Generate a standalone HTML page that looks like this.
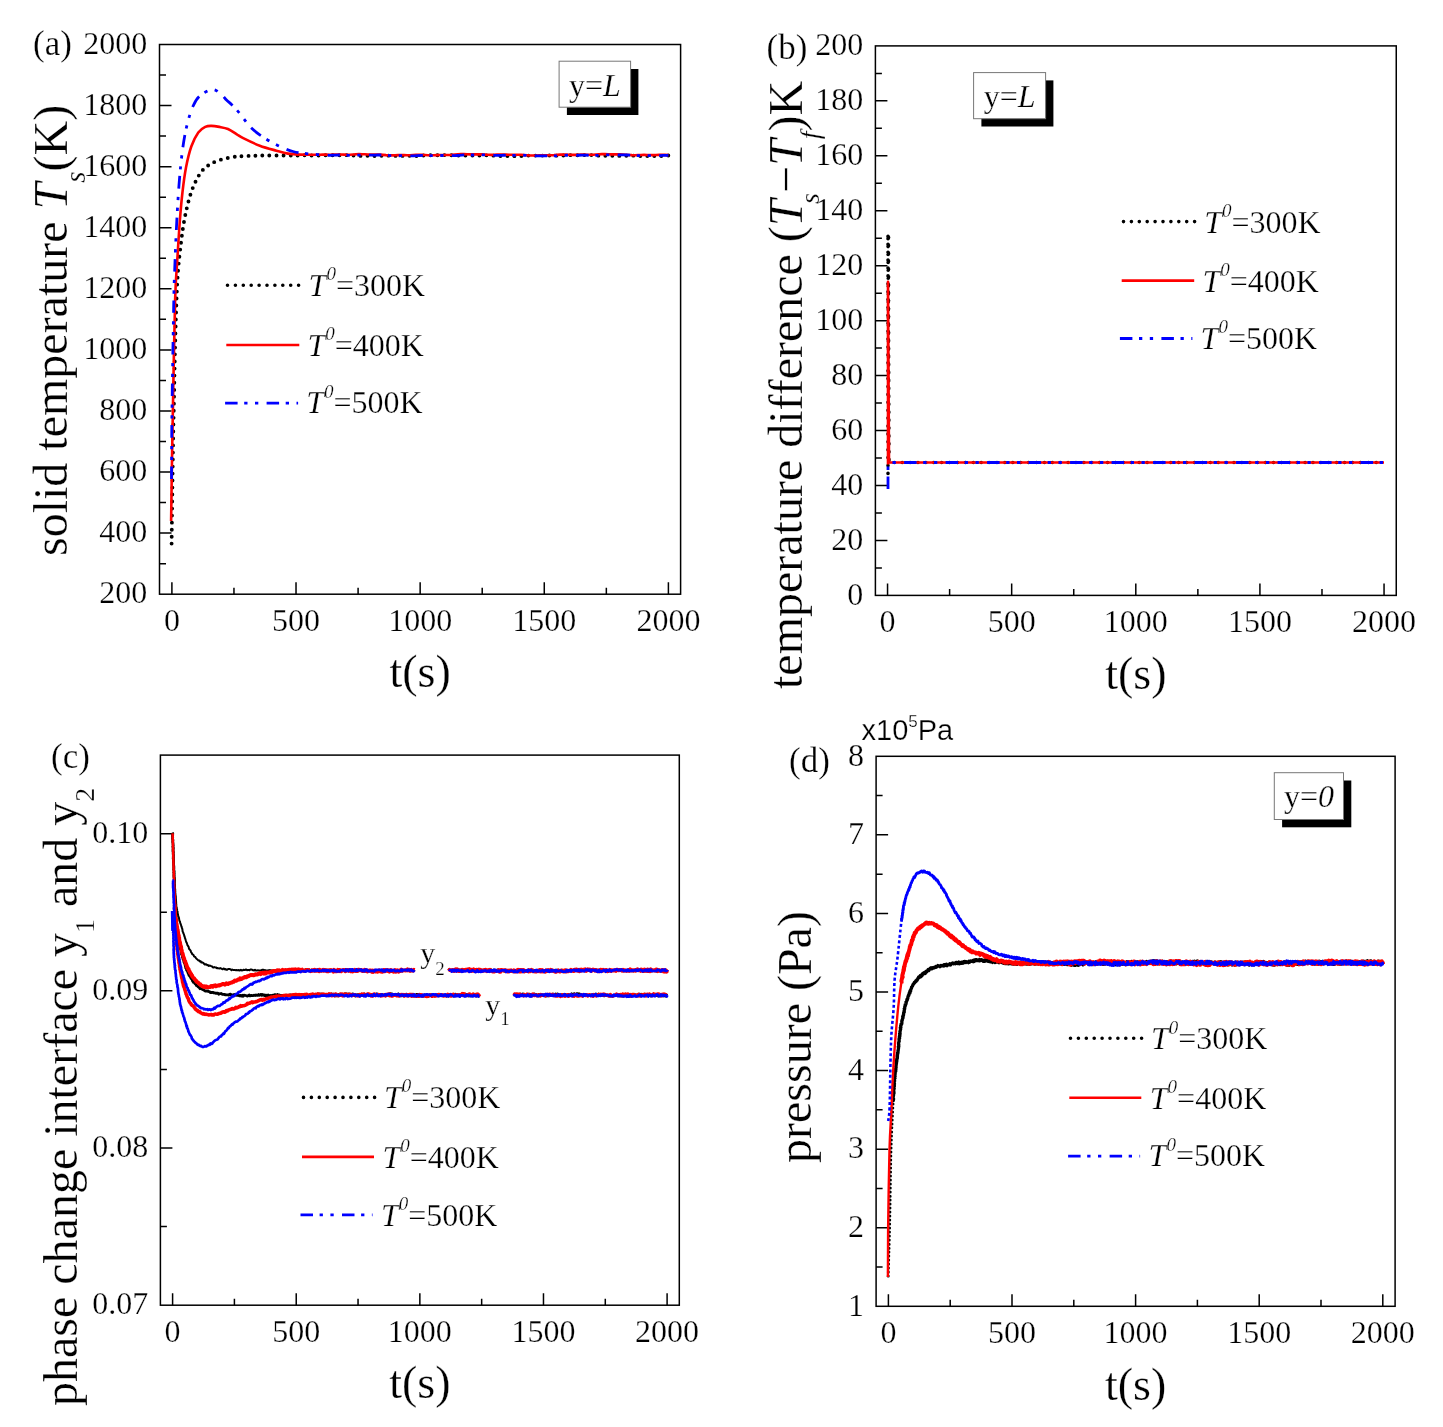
<!DOCTYPE html>
<html><head><meta charset="utf-8"><title>chart</title>
<style>html,body{margin:0;padding:0;background:#fff;}svg{display:block;}text{stroke:#fff;stroke-width:0.25px;}</style></head>
<body><svg style="will-change:transform" width="1443" height="1427" viewBox="0 0 1443 1427">
<defs><clipPath id="clipa"><rect x="159.5" y="44.5" width="521.1" height="549.7"/></clipPath><clipPath id="clipb"><rect x="875.4" y="45.9" width="520.85" height="549.5"/></clipPath><clipPath id="clipc"><rect x="160.4" y="755.1" width="518.9" height="550.1"/></clipPath><clipPath id="clipd"><rect x="876.1" y="756.3" width="518.9999999999999" height="550.0"/></clipPath></defs>
<rect width="1443" height="1427" fill="#fff"/>
<rect x="159.50" y="44.50" width="521.10" height="549.70" fill="none" stroke="#000" stroke-width="1.5"/>
<path d="M159.50 563.66h6.5 M159.50 533.12h12 M159.50 502.58h6.5 M159.50 472.04h12 M159.50 441.51h6.5 M159.50 410.97h12 M159.50 380.43h6.5 M159.50 349.89h12 M159.50 319.35h6.5 M159.50 288.81h12 M159.50 258.27h6.5 M159.50 227.73h12 M159.50 197.19h6.5 M159.50 166.66h12 M159.50 136.12h6.5 M159.50 105.58h12 M159.50 75.04h6.5 M171.90 594.20v-12 M233.96 594.20v-6.5 M296.02 594.20v-12 M358.09 594.20v-6.5 M420.15 594.20v-12 M482.21 594.20v-6.5 M544.27 594.20v-12 M606.34 594.20v-6.5 M668.40 594.20v-12" stroke="#000" stroke-width="1.5" fill="none"/>
<g font-family='"Liberation Serif", serif' font-size="32" fill="#000"><text x="147.30" y="603.40" text-anchor="end">200</text><text x="147.30" y="542.32" text-anchor="end">400</text><text x="147.30" y="481.24" text-anchor="end">600</text><text x="147.30" y="420.17" text-anchor="end">800</text><text x="147.30" y="359.09" text-anchor="end">1000</text><text x="147.30" y="298.01" text-anchor="end">1200</text><text x="147.30" y="236.93" text-anchor="end">1400</text><text x="147.30" y="175.86" text-anchor="end">1600</text><text x="147.30" y="114.78" text-anchor="end">1800</text><text x="147.30" y="53.70" text-anchor="end">2000</text><text x="171.90" y="631.20" text-anchor="middle">0</text><text x="296.02" y="631.20" text-anchor="middle">500</text><text x="420.15" y="631.20" text-anchor="middle">1000</text><text x="544.27" y="631.20" text-anchor="middle">1500</text><text x="668.40" y="631.20" text-anchor="middle">2000</text></g>
<text x="420.05" y="687.40" text-anchor="middle" font-family='"Liberation Serif", serif' font-size="46">t(s)</text>
<rect x="875.40" y="45.90" width="520.85" height="549.50" fill="none" stroke="#000" stroke-width="1.5"/>
<path d="M875.40 567.92h6.5 M875.40 540.45h12 M875.40 512.98h6.5 M875.40 485.50h12 M875.40 458.02h6.5 M875.40 430.55h12 M875.40 403.07h6.5 M875.40 375.60h12 M875.40 348.12h6.5 M875.40 320.65h12 M875.40 293.17h6.5 M875.40 265.70h12 M875.40 238.22h6.5 M875.40 210.75h12 M875.40 183.27h6.5 M875.40 155.80h12 M875.40 128.32h6.5 M875.40 100.85h12 M875.40 73.38h6.5 M887.55 595.40v-12 M949.61 595.40v-6.5 M1011.67 595.40v-12 M1073.74 595.40v-6.5 M1135.80 595.40v-12 M1197.86 595.40v-6.5 M1259.92 595.40v-12 M1321.99 595.40v-6.5 M1384.05 595.40v-12" stroke="#000" stroke-width="1.5" fill="none"/>
<g font-family='"Liberation Serif", serif' font-size="32" fill="#000"><text x="863.20" y="604.60" text-anchor="end">0</text><text x="863.20" y="549.65" text-anchor="end">20</text><text x="863.20" y="494.70" text-anchor="end">40</text><text x="863.20" y="439.75" text-anchor="end">60</text><text x="863.20" y="384.80" text-anchor="end">80</text><text x="863.20" y="329.85" text-anchor="end">100</text><text x="863.20" y="274.90" text-anchor="end">120</text><text x="863.20" y="219.95" text-anchor="end">140</text><text x="863.20" y="165.00" text-anchor="end">160</text><text x="863.20" y="110.05" text-anchor="end">180</text><text x="863.20" y="55.10" text-anchor="end">200</text><text x="887.55" y="632.40" text-anchor="middle">0</text><text x="1011.67" y="632.40" text-anchor="middle">500</text><text x="1135.80" y="632.40" text-anchor="middle">1000</text><text x="1259.92" y="632.40" text-anchor="middle">1500</text><text x="1384.05" y="632.40" text-anchor="middle">2000</text></g>
<text x="1135.83" y="688.60" text-anchor="middle" font-family='"Liberation Serif", serif' font-size="46">t(s)</text>
<rect x="160.40" y="755.10" width="518.90" height="550.10" fill="none" stroke="#000" stroke-width="1.5"/>
<path d="M160.40 1226.61h6.5 M160.40 1148.03h12 M160.40 1069.44h6.5 M160.40 990.86h12 M160.40 912.27h6.5 M160.40 833.69h12 M172.60 1305.20v-12 M234.41 1305.20v-6.5 M296.23 1305.20v-12 M358.04 1305.20v-6.5 M419.85 1305.20v-12 M481.66 1305.20v-6.5 M543.48 1305.20v-12 M605.29 1305.20v-6.5 M667.10 1305.20v-12" stroke="#000" stroke-width="1.5" fill="none"/>
<g font-family='"Liberation Serif", serif' font-size="32" fill="#000"><text x="148.20" y="1314.40" text-anchor="end">0.07</text><text x="148.20" y="1157.23" text-anchor="end">0.08</text><text x="148.20" y="1000.06" text-anchor="end">0.09</text><text x="148.20" y="842.89" text-anchor="end">0.10</text><text x="172.60" y="1342.20" text-anchor="middle">0</text><text x="296.23" y="1342.20" text-anchor="middle">500</text><text x="419.85" y="1342.20" text-anchor="middle">1000</text><text x="543.48" y="1342.20" text-anchor="middle">1500</text><text x="667.10" y="1342.20" text-anchor="middle">2000</text></g>
<text x="419.85" y="1398.40" text-anchor="middle" font-family='"Liberation Serif", serif' font-size="46">t(s)</text>
<rect x="876.10" y="756.30" width="519.00" height="550.00" fill="none" stroke="#000" stroke-width="1.5"/>
<path d="M876.10 1267.01h6.5 M876.10 1227.73h12 M876.10 1188.44h6.5 M876.10 1149.16h12 M876.10 1109.87h6.5 M876.10 1070.59h12 M876.10 1031.30h6.5 M876.10 992.01h12 M876.10 952.73h6.5 M876.10 913.44h12 M876.10 874.16h6.5 M876.10 834.87h12 M876.10 795.59h6.5 M888.40 1306.30v-12 M950.20 1306.30v-6.5 M1012.00 1306.30v-12 M1073.80 1306.30v-6.5 M1135.60 1306.30v-12 M1197.40 1306.30v-6.5 M1259.20 1306.30v-12 M1321.00 1306.30v-6.5 M1382.80 1306.30v-12" stroke="#000" stroke-width="1.5" fill="none"/>
<g font-family='"Liberation Serif", serif' font-size="32" fill="#000"><text x="863.90" y="1315.50" text-anchor="end">1</text><text x="863.90" y="1236.93" text-anchor="end">2</text><text x="863.90" y="1158.36" text-anchor="end">3</text><text x="863.90" y="1079.79" text-anchor="end">4</text><text x="863.90" y="1001.21" text-anchor="end">5</text><text x="863.90" y="922.64" text-anchor="end">6</text><text x="863.90" y="844.07" text-anchor="end">7</text><text x="863.90" y="765.50" text-anchor="end">8</text><text x="888.40" y="1343.30" text-anchor="middle">0</text><text x="1012.00" y="1343.30" text-anchor="middle">500</text><text x="1135.60" y="1343.30" text-anchor="middle">1000</text><text x="1259.20" y="1343.30" text-anchor="middle">1500</text><text x="1382.80" y="1343.30" text-anchor="middle">2000</text></g>
<text x="1135.60" y="1399.50" text-anchor="middle" font-family='"Liberation Serif", serif' font-size="46">t(s)</text>
<text transform="translate(67.40,556.00) rotate(-90)" font-family='"Liberation Serif", serif' font-size="48">solid temperature <tspan font-style="italic">T</tspan><tspan font-style="italic" font-size="29" dy="17.5">s</tspan><tspan dy="-17.5">(K)</tspan></text>
<text transform="translate(802.00,689.00) rotate(-90)" font-family='"Liberation Serif", serif' font-size="48">temperature difference (<tspan font-style="italic">T</tspan><tspan font-style="italic" font-size="28" dy="17" dx="-4.5">s</tspan><tspan dy="-17">−</tspan><tspan font-style="italic">T</tspan><tspan font-style="italic" font-size="28" dy="17">f</tspan><tspan dy="-17">)K</tspan></text>
<text transform="translate(76.50,1406.00) rotate(-90)" font-family='"Liberation Serif", serif' font-size="48">phase change interface y<tspan font-size="28" dy="17">1</tspan><tspan dy="-17"> and y</tspan><tspan font-size="28" dy="17">2</tspan></text>
<text transform="translate(811.30,1163.00) rotate(-90)" font-family='"Liberation Serif", serif' font-size="48">pressure (Pa)</text>
<text x="33.0" y="54.5" font-family='"Liberation Serif", serif' font-size="35">(a)</text>
<text x="766.5" y="59.0" font-family='"Liberation Serif", serif' font-size="35">(b)</text>
<text x="51.0" y="767.5" font-family='"Liberation Serif", serif' font-size="35">(c)</text>
<text x="789.0" y="771.5" font-family='"Liberation Serif", serif' font-size="35">(d)</text>
<text x="861.5" y="739.6" font-family='"Liberation Sans", sans-serif' font-size="29">x10<tspan font-size="17" dy="-13">5</tspan><tspan dy="13">Pa</tspan></text>
<rect x="566.9" y="69.0" width="71.5" height="46.0" fill="#000"/>
<rect x="559.1" y="61.2" width="71.5" height="46.0" fill="#fff" stroke="#777" stroke-width="1"/>
<text x="594.9" y="95.6" text-anchor="middle" font-family='"Liberation Serif", serif' font-size="32">y=<tspan font-style="italic">L</tspan></text>
<rect x="981.4" y="80.4" width="72.0" height="46.1" fill="#000"/>
<rect x="973.6" y="72.6" width="72.0" height="46.1" fill="#fff" stroke="#777" stroke-width="1"/>
<text x="1009.6" y="107.0" text-anchor="middle" font-family='"Liberation Serif", serif' font-size="32">y=<tspan font-style="italic">L</tspan></text>
<rect x="1282.1" y="780.5" width="69.2" height="46.8" fill="#000"/>
<rect x="1274.3" y="772.7" width="69.2" height="46.8" fill="#fff" stroke="#777" stroke-width="1"/>
<text x="1308.9" y="807.3" text-anchor="middle" font-family='"Liberation Serif", serif' font-size="32">y=<tspan font-style="italic">0</tspan></text>
<path d="M227.5 285.2H300.5" stroke="#000" stroke-width="3.6" stroke-linecap="round" stroke-dasharray="0 7.9" fill="none"/>
<text x="308.6" y="295.9" font-family='"Liberation Serif", serif' font-size="32"><tspan font-style="italic">T</tspan><tspan font-style="italic" font-size="19" dy="-15.5">0</tspan><tspan dy="15.5">=300K</tspan></text>
<path d="M226.3 345.0H299.3" stroke="#ff0000" stroke-width="2.6" fill="none" stroke-linejoin="round"/>
<text x="307.4" y="355.6" font-family='"Liberation Serif", serif' font-size="32"><tspan font-style="italic">T</tspan><tspan font-style="italic" font-size="19" dy="-15.5">0</tspan><tspan dy="15.5">=400K</tspan></text>
<path d="M225.1 403.1H298.1" stroke="#0000ff" stroke-width="2.8" stroke-dasharray="12.5 6.6 3.3 7.5 3.3 8.3" fill="none"/>
<text x="306.2" y="413.0" font-family='"Liberation Serif", serif' font-size="32"><tspan font-style="italic">T</tspan><tspan font-style="italic" font-size="19" dy="-15.5">0</tspan><tspan dy="15.5">=500K</tspan></text>
<path d="M1123.5 221.6H1196.0" stroke="#000" stroke-width="3.6" stroke-linecap="round" stroke-dasharray="0 7.9" fill="none"/>
<text x="1204.2" y="232.9" font-family='"Liberation Serif", serif' font-size="32"><tspan font-style="italic">T</tspan><tspan font-style="italic" font-size="19" dy="-15.5">0</tspan><tspan dy="15.5">=300K</tspan></text>
<path d="M1121.7 280.6H1194.2" stroke="#ff0000" stroke-width="2.6" fill="none" stroke-linejoin="round"/>
<text x="1202.4" y="291.5" font-family='"Liberation Serif", serif' font-size="32"><tspan font-style="italic">T</tspan><tspan font-style="italic" font-size="19" dy="-15.5">0</tspan><tspan dy="15.5">=400K</tspan></text>
<path d="M1119.9 338.5H1192.4" stroke="#0000ff" stroke-width="2.8" stroke-dasharray="12.5 6.6 3.3 7.5 3.3 8.3" fill="none"/>
<text x="1200.6" y="348.8" font-family='"Liberation Serif", serif' font-size="32"><tspan font-style="italic">T</tspan><tspan font-style="italic" font-size="19" dy="-15.5">0</tspan><tspan dy="15.5">=500K</tspan></text>
<path d="M303.5 1097.4H375.5" stroke="#000" stroke-width="3.6" stroke-linecap="round" stroke-dasharray="0 7.9" fill="none"/>
<text x="384.0" y="1107.8" font-family='"Liberation Serif", serif' font-size="32"><tspan font-style="italic">T</tspan><tspan font-style="italic" font-size="19" dy="-15.5">0</tspan><tspan dy="15.5">=300K</tspan></text>
<path d="M302.0 1156.9H374.0" stroke="#ff0000" stroke-width="2.6" fill="none" stroke-linejoin="round"/>
<text x="382.5" y="1167.6" font-family='"Liberation Serif", serif' font-size="32"><tspan font-style="italic">T</tspan><tspan font-style="italic" font-size="19" dy="-15.5">0</tspan><tspan dy="15.5">=400K</tspan></text>
<path d="M300.5 1214.8H372.5" stroke="#0000ff" stroke-width="2.8" stroke-dasharray="12.5 6.6 3.3 7.5 3.3 8.3" fill="none"/>
<text x="381.0" y="1225.5" font-family='"Liberation Serif", serif' font-size="32"><tspan font-style="italic">T</tspan><tspan font-style="italic" font-size="19" dy="-15.5">0</tspan><tspan dy="15.5">=500K</tspan></text>
<path d="M1070.5 1038.2H1142.5" stroke="#000" stroke-width="3.6" stroke-linecap="round" stroke-dasharray="0 7.9" fill="none"/>
<text x="1151.0" y="1049.3" font-family='"Liberation Serif", serif' font-size="32"><tspan font-style="italic">T</tspan><tspan font-style="italic" font-size="19" dy="-15.5">0</tspan><tspan dy="15.5">=300K</tspan></text>
<path d="M1069.3 1097.7H1141.3" stroke="#ff0000" stroke-width="2.6" fill="none" stroke-linejoin="round"/>
<text x="1149.8" y="1108.8" font-family='"Liberation Serif", serif' font-size="32"><tspan font-style="italic">T</tspan><tspan font-style="italic" font-size="19" dy="-15.5">0</tspan><tspan dy="15.5">=400K</tspan></text>
<path d="M1068.1 1156.1H1140.1" stroke="#0000ff" stroke-width="2.8" stroke-dasharray="12.5 6.6 3.3 7.5 3.3 8.3" fill="none"/>
<text x="1148.6" y="1166.3" font-family='"Liberation Serif", serif' font-size="32"><tspan font-style="italic">T</tspan><tspan font-style="italic" font-size="19" dy="-15.5">0</tspan><tspan dy="15.5">=500K</tspan></text>
<path d="M171.60 543.60 C171.75 533.00 172.22 498.93 172.50 480.00 C172.78 461.07 173.08 441.83 173.30 430.00 C173.52 418.17 173.52 422.33 173.80 409.00 C174.08 395.67 174.55 368.17 175.00 350.00 C175.45 331.83 175.98 313.33 176.50 300.00 C177.02 286.67 177.38 279.23 178.10 270.00 C178.82 260.77 179.92 252.05 180.80 244.60 C181.68 237.15 182.38 231.43 183.40 225.30 C184.42 219.17 185.58 213.35 186.90 207.80 C188.22 202.25 189.70 196.67 191.30 192.00 C192.90 187.33 194.62 183.43 196.50 179.80 C198.38 176.17 200.27 172.83 202.60 170.20 C204.93 167.57 207.43 165.77 210.50 164.00 C213.57 162.23 217.20 160.77 221.00 159.60 C224.80 158.43 229.50 157.58 233.30 157.00 C237.10 156.42 238.28 156.35 243.80 156.10 C249.32 155.85 257.03 155.58 266.40 155.50 C275.77 155.42 294.40 155.58 300.00 155.60 L303.0 155.31 L306.0 155.28 L309.0 155.36 L312.0 155.51 L315.0 155.62 L318.0 155.60 L321.0 155.46 L324.0 155.29 L327.0 155.17 L330.0 155.17 L333.0 155.23 L336.0 155.28 L339.0 155.24 L342.0 155.15 L345.0 155.11 L348.0 155.19 L351.0 155.40 L354.0 155.66 L357.0 155.85 L360.0 155.91 L363.0 155.88 L366.0 155.84 L369.0 155.88 L372.0 155.98 L375.0 156.05 L378.0 156.03 L381.0 155.90 L384.0 155.72 L387.0 155.61 L390.0 155.64 L393.0 155.77 L396.0 155.90 L399.0 155.95 L402.0 155.90 L405.0 155.82 L408.0 155.80 L411.0 155.86 L414.0 155.95 L417.0 155.96 L420.0 155.84 L423.0 155.60 L426.0 155.36 L429.0 155.22 L432.0 155.19 L435.0 155.24 L438.0 155.25 L441.0 155.18 L444.0 155.09 L447.0 155.05 L450.0 155.13 L453.0 155.32 L456.0 155.51 L459.0 155.61 L462.0 155.58 L465.0 155.47 L468.0 155.39 L471.0 155.40 L474.0 155.49 L477.0 155.56 L480.0 155.55 L483.0 155.46 L486.0 155.37 L489.0 155.38 L492.0 155.54 L495.0 155.77 L498.0 155.98 L501.0 156.07 L504.0 156.05 L507.0 156.01 L510.0 156.02 L513.0 156.10 L516.0 156.18 L519.0 156.17 L522.0 156.02 L525.0 155.79 L528.0 155.59 L531.0 155.51 L534.0 155.55 L537.0 155.63 L540.0 155.66 L543.0 155.60 L546.0 155.50 L549.0 155.45 L552.0 155.51 L555.0 155.63 L558.0 155.71 L561.0 155.68 L564.0 155.51 L567.0 155.30 L570.0 155.15 L573.0 155.12 L576.0 155.17 L579.0 155.20 L582.0 155.17 L585.0 155.08 L588.0 155.03 L591.0 155.10 L594.0 155.30 L597.0 155.55 L600.0 155.74 L603.0 155.79 L606.0 155.75 L609.0 155.70 L612.0 155.72 L615.0 155.82 L618.0 155.90 L621.0 155.91 L624.0 155.80 L627.0 155.65 L630.0 155.57 L633.0 155.63 L636.0 155.79 L639.0 155.96 L642.0 156.04 L645.0 156.02 L648.0 155.95 L651.0 155.93 L654.0 155.98 L657.0 156.07 L660.0 156.08 L663.0 155.96 L666.0 155.72 L668.4 155.52" stroke="#000" stroke-width="3.9" stroke-linecap="round" stroke-dasharray="0 7.0" fill="none"/>
<path d="M171.10 521.00 C171.25 510.83 171.70 478.67 172.00 460.00 C172.30 441.33 172.38 435.67 172.90 409.00 C173.42 382.33 174.32 325.67 175.10 300.00 C175.88 274.33 176.80 268.33 177.60 255.00 C178.40 241.67 179.08 230.50 179.90 220.00 C180.72 209.50 181.48 200.75 182.50 192.00 C183.52 183.25 184.53 175.08 186.00 167.50 C187.47 159.92 189.25 152.33 191.30 146.50 C193.35 140.67 195.97 135.77 198.30 132.50 C200.63 129.23 203.12 128.00 205.30 126.90 C207.48 125.80 209.07 125.90 211.40 125.90 C213.73 125.90 216.53 126.38 219.30 126.90 C222.07 127.42 225.08 127.77 228.00 129.00 C230.92 130.23 234.27 132.77 236.80 134.30 C239.33 135.83 239.37 136.30 243.20 138.20 C247.03 140.10 254.27 143.62 259.80 145.70 C265.33 147.78 271.70 149.38 276.40 150.70 C281.10 152.02 284.07 152.95 288.00 153.60 C291.93 154.25 294.67 154.40 300.00 154.60 C305.33 154.80 316.67 154.77 320.00 154.80 L323.0 154.47 L326.0 154.61 L329.0 154.70 L332.0 154.67 L335.0 154.57 L338.0 154.51 L341.0 154.54 L344.0 154.66 L347.0 154.75 L350.0 154.72 L353.0 154.54 L356.0 154.32 L359.0 154.17 L362.0 154.18 L365.0 154.30 L368.0 154.44 L371.0 154.51 L374.0 154.50 L377.0 154.50 L380.0 154.60 L383.0 154.83 L386.0 155.11 L389.0 155.31 L392.0 155.35 L395.0 155.25 L398.0 155.12 L401.0 155.06 L404.0 155.11 L407.0 155.19 L410.0 155.19 L413.0 155.07 L416.0 154.91 L419.0 154.81 L422.0 154.86 L425.0 155.03 L428.0 155.22 L431.0 155.30 L434.0 155.24 L437.0 155.10 L440.0 154.98 L443.0 154.96 L446.0 154.99 L449.0 154.97 L452.0 154.82 L455.0 154.56 L458.0 154.29 L461.0 154.14 L464.0 154.16 L467.0 154.28 L470.0 154.40 L473.0 154.42 L476.0 154.37 L479.0 154.35 L482.0 154.42 L485.0 154.60 L488.0 154.80 L491.0 154.89 L494.0 154.82 L497.0 154.66 L500.0 154.52 L503.0 154.50 L506.0 154.60 L509.0 154.73 L512.0 154.80 L515.0 154.77 L518.0 154.73 L521.0 154.77 L524.0 154.95 L527.0 155.22 L530.0 155.45 L533.0 155.53 L536.0 155.46 L539.0 155.32 L542.0 155.23 L545.0 155.22 L548.0 155.26 L551.0 155.23 L554.0 155.08 L557.0 154.84 L560.0 154.64 L563.0 154.57 L566.0 154.65 L569.0 154.80 L572.0 154.90 L575.0 154.87 L578.0 154.76 L581.0 154.66 L584.0 154.65 L587.0 154.73 L590.0 154.79 L593.0 154.73 L596.0 154.53 L599.0 154.28 L602.0 154.11 L605.0 154.09 L608.0 154.20 L611.0 154.34 L614.0 154.41 L617.0 154.41 L620.0 154.40 L623.0 154.48 L626.0 154.70 L629.0 154.96 L632.0 155.16 L635.0 155.19 L638.0 155.09 L641.0 154.95 L644.0 154.90 L647.0 154.95 L650.0 155.05 L653.0 155.09 L656.0 155.03 L659.0 154.91 L662.0 154.84 L665.0 154.92 L668.0 155.12 L668.4 155.15" stroke="#ff0000" stroke-width="2.6" fill="none" stroke-linejoin="round"/>
<path d="M171.50 479.00 C171.58 467.33 171.62 438.83 172.00 409.00 C172.38 379.17 173.37 322.73 173.80 300.00 C174.23 277.27 174.17 284.47 174.60 272.60 C175.03 260.73 175.67 243.40 176.40 228.80 C177.13 214.20 177.98 198.13 179.00 185.00 C180.02 171.87 181.18 159.92 182.50 150.00 C183.82 140.08 185.15 132.78 186.90 125.50 C188.65 118.22 190.82 111.25 193.00 106.30 C195.18 101.35 196.78 98.58 200.00 95.80 C203.22 93.02 208.80 89.90 212.30 89.60 C215.80 89.30 218.63 92.27 221.00 94.00 C223.37 95.73 224.75 98.25 226.50 100.00 C228.25 101.75 229.55 102.57 231.50 104.50 C233.45 106.43 235.95 108.97 238.20 111.60 C240.45 114.23 243.07 117.82 245.00 120.30 C246.93 122.78 247.33 124.07 249.80 126.50 C252.27 128.93 255.37 131.85 259.80 134.90 C264.23 137.95 270.87 142.03 276.40 144.80 C281.93 147.57 287.45 149.97 293.00 151.50 C298.55 153.03 303.53 153.35 309.70 154.00 C315.87 154.65 326.62 155.17 330.00 155.40 L333.0 155.19 L336.0 155.10 L339.0 155.01 L342.0 155.01 L345.0 155.13 L348.0 155.29 L351.0 155.40 L354.0 155.37 L357.0 155.23 L360.0 155.07 L363.0 155.00 L366.0 155.03 L369.0 155.11 L372.0 155.14 L375.0 155.09 L378.0 155.01 L381.0 154.99 L384.0 155.11 L387.0 155.34 L390.0 155.59 L393.0 155.75 L396.0 155.78 L399.0 155.74 L402.0 155.72 L405.0 155.77 L408.0 155.86 L411.0 155.91 L414.0 155.85 L417.0 155.68 L420.0 155.50 L423.0 155.40 L426.0 155.44 L429.0 155.56 L432.0 155.66 L435.0 155.67 L438.0 155.60 L441.0 155.52 L444.0 155.52 L447.0 155.59 L450.0 155.68 L453.0 155.67 L456.0 155.52 L459.0 155.28 L462.0 155.05 L465.0 154.94 L468.0 154.95 L471.0 155.00 L474.0 155.00 L477.0 154.93 L480.0 154.84 L483.0 154.84 L486.0 154.96 L489.0 155.18 L492.0 155.38 L495.0 155.46 L498.0 155.42 L501.0 155.32 L504.0 155.27 L507.0 155.31 L510.0 155.41 L513.0 155.47 L516.0 155.43 L519.0 155.33 L522.0 155.24 L525.0 155.28 L528.0 155.45 L531.0 155.67 L534.0 155.85 L537.0 155.90 L540.0 155.86 L543.0 155.81 L546.0 155.83 L549.0 155.92 L552.0 155.97 L555.0 155.92 L558.0 155.74 L561.0 155.49 L564.0 155.30 L567.0 155.24 L570.0 155.29 L573.0 155.36 L576.0 155.36 L579.0 155.27 L582.0 155.18 L585.0 155.16 L588.0 155.25 L591.0 155.38 L594.0 155.46 L597.0 155.40 L600.0 155.23 L603.0 155.04 L606.0 154.93 L609.0 154.94 L612.0 155.00 L615.0 155.04 L618.0 154.99 L621.0 154.91 L624.0 154.89 L627.0 155.00 L630.0 155.22 L633.0 155.47 L636.0 155.64 L639.0 155.67 L642.0 155.62 L645.0 155.59 L648.0 155.63 L651.0 155.73 L654.0 155.80 L657.0 155.76 L660.0 155.63 L663.0 155.47 L666.0 155.40 L668.4 155.44" stroke="#0000ff" stroke-width="2.8" stroke-dasharray="12.5 6.6 3.3 7.5 3.3 8.3" fill="none"/>
<path d="M888 473.4 V233.6 L889 462.5 H1384.0" stroke="#000" stroke-width="3.6" stroke-linecap="round" stroke-dasharray="0 7.9" fill="none"/>
<path d="M888.6 233.6 V462" stroke="#000" stroke-width="3.6" stroke-linecap="round" stroke-dasharray="0 7.9" fill="none" stroke-dashoffset="3.9"/>
<path d="M888 464.4 V281.8 L889 462.5 H1384.0" stroke="#ff0000" stroke-width="2.6" fill="none" stroke-linejoin="round"/>
<path d="M888 489 V465 L889.5 462.5 H1384.0" stroke="#0000ff" stroke-width="2.8" stroke-dasharray="12.5 6.6 3.3 7.5 3.3 8.3" fill="none"/>
<path d="M172.6 832.7 172.7 833.4 172.6 834.3 172.6 834.8 172.7 835.3 172.6 836.1 172.8 836.1 172.8 836.5 172.7 837.9 172.7 838.7 172.7 838.8 172.8 839.5 172.8 840.9 173.0 841.7 172.9 842.4 173.0 842.7 173.0 843.6 173.0 844.3 173.1 845.5 173.1 846.7 173.2 847.3 173.4 848.3 173.3 849.5 173.2 850.5 173.4 851.1 173.5 852.1 173.3 852.7 173.3 854.2 173.6 854.9 173.4 855.3 173.6 857.1 173.7 857.2 173.7 858.4 173.7 859.8 173.6 860.0 173.8 861.5 173.7 861.7 173.9 862.4 173.9 863.3 173.9 864.1 174.0 865.4 173.9 865.7 174.1 866.6 174.2 868.0 174.0 868.8 174.1 869.0 174.1 870.6 174.2 871.2 174.4 871.7 174.3 873.1 174.4 873.4 174.2 875.0 174.4 875.2 174.4 876.7 174.6 877.5 174.4 878.2 174.7 878.9 174.6 879.4 174.6 881.1 174.6 881.4 174.6 882.1 174.7 883.2 174.8 883.6 174.9 884.8 174.9 885.9 174.8 886.5 174.9 887.7 175.0 888.5 175.1 888.6 175.2 889.8 175.0 890.1 175.1 891.0 175.3 891.6 175.2 892.1 175.2 892.9 175.4 894.2 175.4 894.8 175.6 896.1 175.7 896.8 175.6 897.9 175.9 899.3 175.9 900.2 176.0 900.6 175.9 901.9 176.2 902.1 176.1 902.5 176.1 903.6 176.3 904.1 176.2 905.5 176.5 906.4 176.5 906.2 176.5 907.3 176.8 907.8 176.8 908.6 177.1 909.5 177.1 910.4 177.2 910.8 177.6 911.7 177.6 913.2 177.8 913.5 177.9 914.3 178.2 915.7 178.2 916.4 178.6 917.0 178.8 917.2 179.0 918.1 179.1 918.9 179.3 920.4 179.5 920.9 180.0 921.6 180.1 922.7 180.5 923.7 180.6 924.0 180.9 924.6 181.1 925.2 181.2 925.9 181.7 926.8 181.7 927.5 182.1 928.4 182.4 929.4 182.5 930.2 182.6 931.5 183.1 932.1 183.3 933.1 183.5 933.7 183.6 933.7 184.0 934.6 184.3 936.0 184.6 936.7 184.8 937.2 184.9 938.1 185.2 938.6 185.5 939.4 185.8 940.5 186.0 941.1 186.3 942.3 186.5 942.3 186.8 943.3 187.2 944.1 187.4 945.1 187.8 945.6 188.0 945.9 188.7 947.0 188.9 948.3 189.2 949.0 189.7 949.5 190.2 950.2 190.6 950.5 190.9 951.9 191.6 952.8 191.9 953.2 192.2 954.1 192.7 954.5 193.3 954.7 193.8 955.5 194.0 956.4 194.9 956.8 195.3 957.1 195.9 958.1 196.8 959.0 197.3 959.3 198.0 960.1 198.5 960.6 199.4 960.4 200.0 961.5 200.7 961.2 201.2 962.5 202.1 962.2 202.7 962.7 203.6 963.2 204.1 963.9 205.0 964.6 205.7 964.2 206.5 964.5 207.3 965.2 207.9 965.0 208.9 965.9 209.9 965.5 210.4 965.9 211.2 966.1 212.1 966.5 212.9 967.3 213.4 967.6 214.4 967.1 215.1 967.4 216.2 967.4 216.8 968.3 217.8 968.1 218.4 968.3 219.4 968.5 220.3 968.1 220.9 968.4 221.8 968.9 222.7 969.3 223.3 968.6 224.3 968.8 225.1 969.5 225.6 969.1 226.5 969.7 227.2 969.7 228.1 969.0 228.9 969.0 229.7 969.1 230.5 969.3 231.5 970.2 232.3 969.6 232.8 969.8 233.7 970.0 234.2 969.9 235.1 970.1 235.7 970.2 236.4 969.9 236.9 970.4 237.7 970.2 238.6 970.1 239.4 970.5 240.1 970.3 240.9 969.8 241.8 970.4 242.7 970.2 243.7 969.8 245.0 970.1 245.5 969.6 246.3 969.6 247.1 970.2 247.9 970.1 248.5 969.9 249.5 970.3 250.2 969.6 251.2 969.6 252.2 969.8 253.1 970.3 254.1 970.4 255.0 969.7 255.9 970.6 256.8 970.6 257.9 970.2 258.7 970.4 259.6 970.4 260.6 970.5 261.4 970.2 262.4 969.8 263.5 969.8 264.3 970.6 265.0 970.0 265.8 970.6 266.4 970.5 267.2 970.5 268.0 970.5 268.5 970.2 269.1 970.7 269.6 970.0 270.1 970.6 270.9 970.3 271.5 970.7 272.3 970.4 273.3 971.0 274.0 970.6 274.9 970.5 275.5 970.2 276.3 971.2 277.2 970.3 277.9 970.6 278.6 970.8 279.5 971.2 280.4 970.3 281.4 970.9 282.0 970.1 282.6 970.7 283.8 970.4 284.4 970.3 285.1 970.3 285.8 970.1 287.0 969.7 287.8 970.1 288.6 970.9 289.4 970.3 290.1 969.7 290.9 970.0 291.6 970.4 292.3 970.2 293.2 970.2 293.9 970.4 294.6 969.6 295.7 970.1 296.2 969.8 297.4 969.4 298.0 969.4 298.8 970.1 299.4 970.2 300.4 969.6 301.4 970.4 301.9 969.7 303.0 970.2 303.5 970.1 304.6 970.1 305.4 969.3 306.3 969.3 307.0 969.7 307.9 970.3 308.6 969.5 309.2 969.3 310.1 970.7 310.9 970.2 311.5 969.6 312.3 970.0 313.0 970.9 313.7 970.4 314.9 970.0 315.6 969.9 316.2 969.5 317.1 969.7 317.7 969.6 318.8 969.8 319.4 971.4 320.2 969.8 321.4 971.5 322.3 970.5 323.0 969.7 323.9 970.4 324.6 969.6 325.0 969.8 326.2 969.5 327.0 970.1 327.9 970.9 328.5 969.8 329.4 969.8 329.8 971.2 330.5 969.5 331.7 969.8 332.5 970.9 333.0 970.3 333.8 970.3 334.5 971.0 335.8 971.2 336.4 970.4 337.0 971.5 338.0 970.7 339.0 970.9 339.7 970.9 340.1 970.7 341.1 970.1 342.0 970.7 342.8 969.8 343.9 969.6 344.6 970.8 345.4 970.0 345.8 969.4 346.6 970.2 347.9 970.8 348.5 969.5 349.0 969.7 349.7 969.5 350.6 969.5 351.8 970.0 352.2 969.6 353.0 969.5 354.3 970.4 354.8 969.7 355.5 970.3 356.4 969.8 357.3 970.3 358.1 971.1 358.8 971.3 359.4 970.8 360.5 970.4 361.0 970.4 362.1 970.0 363.0 971.2 363.3 971.4 364.5 970.7 365.2 970.2 366.1 970.6 366.9 970.3 367.9 971.0 368.2 971.2 369.0 969.9 370.2 970.2 371.0 971.2 371.4 971.8 372.3 971.2 373.2 970.1 373.9 970.2 374.8 970.3 375.6 971.3 376.1 970.7 376.9 971.9 378.1 970.9 378.5 970.9 379.5 971.8 380.3 970.9 381.4 972.0 381.8 970.3 383.1 970.3 383.3 970.2 384.3 971.0 385.3 970.3 386.0 970.1 386.5 969.9 387.7 971.0 388.7 969.8 389.1 970.8 389.8 971.0 391.0 970.5 391.6 971.3 392.5 970.4 393.2 970.3 393.9 971.4 394.7 971.2 395.3 971.3 396.5 971.1 397.0 970.2 397.7 971.5 398.6 970.1 399.4 971.6 400.7 970.9 401.1 970.1 402.1 970.2 403.0 970.9 403.8 969.8 404.5 970.6 405.2 971.0 405.9 970.4 407.0 970.7 407.4 969.7 408.2 969.7 409.1 970.7 410.1 971.3 411.0 971.4 411.7 971.1 412.3 970.1 413.3 970.7 414.2 970.6 415.0 971.0M448.7 969.5 449.3 969.2 449.7 969.9 451.0 970.3 451.4 970.8 452.3 970.0 453.3 970.5 454.2 969.4 455.0 969.3 455.5 969.1 456.6 970.2 457.5 970.8 458.3 969.9 458.6 969.8 459.8 969.5 460.6 969.8 461.2 969.7 462.1 971.2 463.0 969.6 463.5 969.9 464.1 970.0 464.9 970.2 466.0 970.6 466.6 969.9 467.8 970.4 468.3 969.4 469.5 971.0 470.1 970.2 470.7 970.8 471.8 970.4 472.2 970.1 473.0 969.9 474.2 970.7 475.0 969.5 475.4 970.4 476.2 970.4 477.3 970.9 478.1 971.1 478.5 970.7 479.5 971.5 480.3 970.1 481.4 970.4 482.2 971.5 483.1 969.6 483.8 971.1 484.1 969.9 484.9 969.9 485.9 969.9 487.0 970.3 487.8 971.2 488.7 970.4 488.9 970.0 490.1 969.5 491.1 969.5 491.6 969.7 492.2 970.2 493.4 971.2 493.8 969.6 495.0 970.0 495.8 971.1 496.5 970.8 497.4 969.5 498.1 969.4 498.7 970.2 499.8 969.9 500.3 970.9 500.9 970.5 502.1 971.1 502.7 971.1 503.3 971.0 504.6 971.6 505.0 969.8 506.1 969.7 506.6 971.7 507.5 970.6 508.5 970.0 508.9 970.8 510.2 969.9 510.7 969.9 511.3 970.6 512.2 970.8 513.1 971.2 514.1 971.1 514.6 971.5 515.8 971.7 516.5 970.0 517.0 970.3 517.8 971.0 518.8 970.3 519.3 970.1 520.4 970.1 521.3 970.7 521.9 970.7 523.0 970.4 523.9 971.9 524.3 971.3 525.3 971.6 526.3 970.1 526.7 970.3 527.9 970.2 528.6 971.0 529.1 971.5 530.1 971.8 530.8 970.3 531.8 970.5 532.2 971.6 533.4 970.0 533.7 969.7 534.9 971.4 535.6 971.4 536.5 970.0 536.9 970.9 537.7 970.0 539.0 969.9 539.5 970.3 540.5 970.1 541.5 971.0 541.9 970.6 543.0 970.2 543.7 970.0 544.5 970.5 544.9 970.4 546.1 970.9 546.9 969.8 547.8 971.6 548.3 969.8 549.5 971.3 550.1 970.5 550.6 969.8 551.9 971.2 552.5 970.2 553.0 970.5 554.1 970.9 554.5 971.1 555.9 969.6 556.4 971.0 557.4 969.9 557.9 970.5 558.8 970.4 559.4 971.2 560.7 970.1 561.3 969.7 562.2 971.1 562.8 970.5 563.7 971.6 564.4 971.5 565.2 970.0 566.0 971.0 566.8 969.9 567.8 971.6 568.1 970.6 569.4 970.9 569.7 970.6 571.0 970.0 571.4 971.2 572.5 970.4 573.0 970.2 574.3 970.8 574.7 970.1 575.5 971.0 576.5 969.7 577.3 971.1 577.8 971.0 579.1 971.1 579.6 969.5 580.1 970.3 581.1 970.3 581.7 970.8 582.8 969.6 583.8 970.1 584.3 971.0 585.0 970.4 586.2 969.8 586.9 970.8 587.9 969.3 588.4 971.0 589.3 969.8 590.2 969.6 591.0 969.2 591.7 970.3 592.2 970.0 593.4 970.6 593.8 970.7 594.6 970.4 595.8 970.2 596.4 969.5 596.9 969.6 598.0 970.4 598.6 970.8 599.8 969.9 600.4 969.4 600.9 970.0 601.9 970.9 602.5 970.0 603.9 970.8 604.4 970.7 605.2 971.1 606.0 969.9 607.0 970.9 607.9 971.2 608.6 970.5 609.1 970.9 609.8 969.6 610.9 969.9 611.6 970.4 612.1 970.5 613.3 970.6 614.3 971.0 614.7 971.0 615.3 970.6 616.4 970.4 616.9 970.0 618.0 970.9 618.6 970.0 619.5 970.7 620.3 970.0 621.4 971.1 621.8 970.3 623.0 971.1 623.7 970.9 624.3 969.9 625.4 969.8 625.8 970.6 626.5 971.3 627.8 970.8 628.4 970.0 629.1 969.8 630.2 969.7 630.8 970.5 631.6 969.8 632.4 970.9 633.5 971.3 634.1 969.8 634.7 970.1 635.8 969.4 636.5 970.6 637.3 969.3 638.3 970.1 639.0 971.0 639.8 970.1 640.2 970.4 641.1 970.9 641.8 970.5 642.5 969.6 643.7 970.0 644.6 971.3 645.4 971.3 645.9 971.2 646.8 971.3 647.6 970.2 648.4 970.7 649.4 971.5 649.8 970.3 650.5 971.5 651.5 971.0 652.4 970.3 653.1 970.6 653.9 970.7 654.7 970.7 655.4 970.5 656.5 971.6 657.3 969.9 658.1 969.9 658.5 970.7 659.8 971.4 660.5 971.0 661.2 971.4 662.3 971.2 662.6 970.4 663.5 970.7 664.5 971.4 665.1 970.7 666.1 971.2 666.7 970.4 666.9 970.9" stroke="#000" stroke-width="2.0" fill="none" stroke-linejoin="round"/>
<path d="M172.4 832.7 172.7 833.4 172.8 833.9 172.5 834.5 172.7 835.3 172.6 835.5 172.5 836.4 172.6 836.8 172.7 837.4 172.6 838.2 172.6 838.8 172.8 839.5 172.9 840.6 172.9 840.7 172.7 841.6 172.8 842.6 173.0 843.1 173.0 844.2 173.1 844.5 173.2 845.8 172.8 846.7 173.1 847.2 173.2 848.4 173.1 848.7 173.0 850.2 173.0 851.3 173.2 852.0 173.3 852.6 173.2 853.5 173.3 855.2 173.4 855.1 173.3 856.4 173.3 857.1 173.2 858.4 173.4 859.6 173.4 859.7 173.4 861.4 173.5 862.7 173.6 863.2 173.6 863.5 173.6 865.3 173.7 865.5 173.8 866.5 173.7 867.1 173.8 868.8 173.6 869.3 173.9 870.4 174.0 871.0 173.8 872.1 173.7 872.3 174.0 873.1 174.0 874.3 173.8 875.3 174.0 875.5 173.9 876.3 174.0 877.7 174.2 877.7 174.2 878.8 174.4 879.9 174.4 880.4 174.3 882.0 174.3 882.2 174.2 883.7 174.2 884.0 174.2 885.2 174.3 885.9 174.5 886.6 174.4 887.4 174.4 887.9 174.5 889.2 174.7 889.7 174.8 890.7 174.6 891.5 174.7 892.7 174.7 893.2 174.8 894.1 174.7 894.9 174.9 895.6 174.9 897.3 175.1 897.2 175.0 898.6 175.1 899.6 174.9 900.3 175.0 901.0 175.3 901.3 175.1 901.7 175.1 903.1 175.5 903.5 175.3 904.4 175.5 905.5 175.3 905.4 175.6 906.2 175.6 907.8 175.3 907.7 175.4 908.6 175.5 910.1 175.6 911.2 175.6 911.5 175.9 912.6 175.8 913.2 176.0 914.4 175.7 915.8 175.8 915.6 175.8 916.9 176.0 917.2 176.1 918.1 176.0 919.4 176.1 920.1 176.1 921.4 176.2 922.1 176.2 922.7 176.4 923.2 176.4 923.5 176.3 924.3 176.4 925.5 176.5 926.5 176.6 927.3 176.7 927.8 176.6 928.4 176.8 928.8 176.6 929.4 177.0 929.9 176.8 930.9 177.0 931.6 177.2 932.5 177.5 933.9 177.6 934.4 177.5 935.4 177.7 936.6 178.0 936.9 177.8 937.7 178.1 938.7 178.4 939.2 178.5 940.0 178.5 941.4 179.0 942.0 179.1 942.8 179.2 943.4 179.4 944.0 179.5 945.7 179.6 946.1 179.9 946.9 180.1 948.0 180.3 948.9 180.3 948.9 180.7 949.4 181.0 950.8 181.2 952.0 181.2 951.7 181.6 953.2 181.5 954.2 182.1 954.9 182.0 955.1 182.3 955.5 182.4 957.2 182.7 956.8 182.8 958.4 183.1 959.1 183.5 959.9 183.8 960.5 183.9 961.7 184.3 962.9 184.6 963.1 184.7 963.6 185.1 964.6 185.3 966.2 185.6 966.2 185.7 967.8 186.1 967.7 186.5 969.1 186.6 970.1 187.1 970.8 187.4 970.9 187.6 971.3 187.9 972.6 188.4 973.5 188.5 973.8 188.9 974.9 189.1 975.5 189.7 975.8 190.2 976.7 190.6 977.0 191.0 978.3 191.4 978.6 192.2 979.7 192.6 981.1 193.1 981.5 193.4 982.4 194.2 982.5 194.7 983.3 195.1 983.7 195.8 984.1 196.3 985.5 197.0 985.7 197.5 986.0 198.2 987.0 198.6 987.1 199.1 987.5 200.0 988.7 200.7 988.2 201.3 988.5 202.1 989.2 202.8 989.6 203.8 989.9 204.6 990.6 205.1 991.0 205.9 991.1 206.9 990.9 207.7 991.3 208.1 991.0 209.0 991.6 209.9 991.9 210.4 992.5 211.3 992.5 212.2 992.5 213.1 992.3 213.7 992.9 214.4 992.8 215.5 993.1 216.2 993.4 217.2 993.2 217.9 993.2 218.7 994.2 219.4 993.9 220.2 993.7 221.1 993.5 221.7 993.8 222.4 994.3 223.3 994.4 224.0 994.4 224.9 994.8 225.8 994.6 226.3 994.9 227.1 994.9 228.0 994.8 228.7 995.1 229.5 994.4 230.5 994.1 231.3 995.3 232.3 994.9 232.8 995.0 233.6 995.3 234.2 994.4 235.3 995.2 236.0 995.2 236.9 995.3 237.5 995.4 238.4 995.0 239.2 995.9 239.9 995.6 240.8 995.4 241.4 996.1 242.4 995.3 243.2 996.2 243.9 995.1 244.9 995.3 245.7 995.5 246.7 995.8 247.5 996.1 248.3 995.6 249.3 995.0 250.0 995.9 251.1 995.4 252.1 995.7 252.9 995.6 253.9 995.2 255.0 995.5 256.0 994.9 256.8 995.4 257.9 995.3 258.5 994.5 259.4 995.3 260.3 994.7 261.0 994.4 261.5 995.3 262.3 994.6 262.8 995.2 263.2 994.8 264.1 995.5 264.9 995.0 265.6 995.9 266.5 995.2 267.1 995.8 268.2 995.0 268.9 995.9 269.9 995.4 270.6 995.7 271.2 995.5 272.2 995.3 273.0 995.2 273.8 995.7 274.6 994.6 275.4 994.6 276.2 995.1 277.1 995.1 277.5 994.5 278.5 995.6 279.2 994.9 280.1 995.5 280.9 996.0 281.7 995.3 282.3 995.4 283.4 996.1 284.1 995.5 284.8 995.8 285.6 995.3 286.7 995.2 287.1 996.1 288.3 995.5 288.8 995.7 289.6 995.0 290.7 995.0 291.1 995.8 292.3 995.5 293.1 995.1 293.7 995.1 294.4 995.9 295.1 995.1 296.0 996.1 297.1 995.6 297.7 994.8 298.4 995.0 299.5 994.6 300.3 996.1 300.8 994.4 301.9 995.9 302.2 994.4 303.5 996.0 304.2 994.4 304.9 995.2 305.8 995.8 306.3 994.7 307.3 995.8 308.0 995.4 308.9 995.5 309.7 995.2 310.3 994.4 311.5 994.6 311.9 994.8 313.0 995.7 313.7 995.5 314.3 996.0 315.3 995.7 316.3 995.4 317.1 994.1 317.4 994.4 318.8 995.4 319.5 994.0 320.1 994.8 321.0 993.9 321.7 995.5 322.2 994.2 323.2 994.4 323.8 995.1 324.7 994.6 325.9 995.1 326.2 995.3 327.5 995.7 327.9 995.1 328.7 995.4 329.7 995.2 330.4 994.4 331.4 994.0 332.1 995.3 332.9 994.2 333.4 994.1 334.4 995.7 335.3 994.1 335.9 995.8 336.9 995.9 337.6 995.0 338.2 995.8 339.2 994.3 340.2 994.1 340.8 995.1 342.0 994.2 342.3 995.3 343.0 994.9 344.2 995.5 345.1 993.8 345.5 994.1 346.8 993.9 347.2 995.3 348.3 995.4 348.8 993.9 349.7 995.7 350.5 995.5 351.0 995.3 352.0 994.1 352.9 994.0 353.4 995.4 354.7 994.8 355.3 996.0 356.0 995.0 357.1 995.1 357.7 994.6 358.4 994.6 359.5 995.2 360.1 995.9 360.7 994.4 361.6 994.1 362.4 995.5 363.2 994.4 364.2 993.9 364.6 995.0 366.0 994.4 366.5 995.1 367.3 995.0 367.9 993.9 369.1 995.5 369.5 995.3 370.8 995.2 371.2 994.7 372.4 994.8 373.2 994.6 373.5 995.5 374.6 994.2 375.2 995.6 376.3 993.9 376.9 994.0 377.4 995.2 378.4 995.6 379.6 994.4 380.2 994.7 380.8 994.5 382.0 994.5 382.7 995.4 383.5 995.5 383.9 994.8 385.1 994.7 386.0 995.4 386.4 995.5 387.5 994.6 388.4 994.6 388.7 995.4 389.5 995.1 390.2 993.7 391.2 993.9 392.3 994.2 392.8 995.0 393.7 994.9 394.6 995.0 395.3 995.0 396.2 994.5 397.1 994.9 397.9 995.0 398.3 993.9 399.1 994.7 400.2 995.3 400.9 995.9 402.0 995.8 402.5 995.0 403.4 994.5 404.0 995.2 404.7 995.2 405.7 994.3 406.4 994.2 407.3 995.6 408.1 995.3 408.8 994.9 409.6 995.0 410.8 994.9 411.4 996.1 412.3 994.2 412.7 994.4 413.6 996.1 414.2 995.7 415.5 995.3 416.4 994.4 417.0 994.3 418.0 994.4 418.8 995.8 419.6 996.1 420.0 994.9 420.7 995.8 421.8 995.3 422.8 996.4 423.5 995.9 424.4 994.9 425.1 994.8 425.5 995.5 426.3 996.2 427.3 994.8 428.3 996.4 429.1 995.5 429.8 995.0 430.5 995.5 431.6 994.8 432.1 996.2 432.9 995.5 433.7 994.9 434.6 996.0 435.1 995.8 436.2 995.7 436.9 994.9 437.6 994.9 438.4 994.3 439.3 995.7 440.3 994.4 441.0 995.8 441.5 994.6 442.8 995.2 443.3 995.7 444.2 995.0 444.9 995.1 445.7 995.1 446.6 996.2 447.1 995.5 448.4 996.1 449.0 994.5 449.4 995.4 450.8 995.6 451.6 995.0 452.0 995.8 452.7 995.9 453.8 996.0 454.4 995.3 455.2 994.2 456.1 995.6 457.0 994.6 457.7 994.6 458.4 995.5 459.4 996.0 460.1 995.3 460.6 994.3 461.7 994.5 462.3 995.0 463.1 994.8 464.3 995.3 465.1 995.9 465.7 995.8 466.8 994.6 467.5 995.2 468.1 994.5 468.9 996.0 469.8 995.8 470.3 995.6 471.4 996.0 471.8 995.9 472.7 995.7 473.7 995.6 474.7 995.0 475.6 994.7 476.4 996.1 477.0 995.7 477.4 995.9 478.3 996.1 479.2 995.0M513.6 994.8 514.6 995.1 515.4 994.7 515.8 995.0 516.8 994.5 517.9 994.2 518.6 994.3 519.5 995.1 519.8 994.2 521.0 994.2 521.5 994.4 522.8 995.6 523.0 993.9 524.2 995.2 525.1 995.3 525.7 995.3 526.6 994.9 527.1 995.6 528.3 994.1 528.9 994.3 529.7 994.2 530.7 995.3 531.1 994.5 532.1 995.8 532.9 994.8 534.0 994.9 534.6 994.1 535.2 995.5 536.3 994.5 536.8 995.3 537.6 995.1 538.5 996.0 539.0 994.5 540.2 995.1 540.8 995.8 542.0 995.3 542.6 995.1 543.5 995.4 543.9 995.0 545.1 994.7 545.8 996.0 546.7 995.5 547.3 995.9 548.1 995.9 549.0 995.5 550.0 994.4 550.4 995.0 551.3 995.4 551.8 995.2 552.8 994.1 553.7 995.0 554.3 995.5 555.5 994.0 556.3 994.6 556.9 994.1 557.8 994.0 558.3 994.4 559.5 995.5 560.3 994.9 560.9 994.9 562.0 994.7 562.6 995.4 563.1 994.7 564.0 995.0 564.6 994.4 565.7 994.6 566.2 995.1 567.6 994.9 568.3 994.4 568.7 995.3 569.7 995.5 570.8 994.4 571.6 993.8 571.9 994.5 572.9 994.8 573.7 995.2 574.2 993.6 575.3 994.5 575.8 994.6 577.0 993.6 578.0 995.3 578.7 993.9 579.0 993.7 580.2 994.2 580.9 994.5 581.7 995.0 582.3 995.3 583.2 995.5 584.2 995.6 584.8 995.1 586.0 994.5 586.5 995.7 587.2 995.7 588.4 995.3 589.1 995.1 589.7 995.0 590.5 995.1 591.4 994.8 592.2 995.1 593.0 994.6 593.8 995.3 594.4 995.2 595.4 994.6 595.9 994.1 596.7 995.8 597.5 995.2 598.5 994.1 599.6 995.6 599.9 995.4 601.2 994.5 601.4 995.4 602.7 995.1 603.6 994.7 604.2 995.9 604.9 995.4 605.4 995.3 606.2 995.6 607.5 995.0 607.9 995.1 608.7 995.8 609.7 996.0 610.5 996.2 611.4 995.4 611.8 995.5 612.8 996.2 613.5 995.7 614.5 995.7 615.5 995.5 616.0 995.0 617.0 994.6 617.7 995.1 618.2 995.7 619.5 995.0 619.9 996.0 620.8 995.4 621.7 995.7 622.3 996.1 623.4 996.0 624.0 994.4 625.2 994.5 625.6 995.5 626.2 995.7 627.4 995.5 628.0 994.9 629.2 995.6 630.0 995.0 630.5 996.1 631.2 996.2 631.8 994.7 632.8 995.4 633.8 994.6 634.4 994.5 635.3 995.7 635.8 994.9 636.7 995.1 637.9 995.5 638.6 994.4 639.5 994.2 640.2 994.7 641.1 994.2 641.8 995.9 642.4 995.0 643.3 995.0 644.1 994.9 644.6 994.1 645.9 994.3 646.5 995.9 647.6 994.5 648.1 995.1 649.1 995.3 649.7 994.3 650.7 996.1 651.2 995.4 651.9 994.8 652.7 994.9 653.6 994.5 654.5 995.0 655.2 994.8 656.0 995.5 656.8 995.4 657.9 995.9 658.3 996.0 659.3 995.9 660.4 995.5 661.0 996.0 661.5 995.8 662.7 995.8 663.3 995.8 664.1 995.9 665.1 994.8 665.4 996.2 666.6 995.2 667.2 995.7" stroke="#000" stroke-width="2.8" fill="none" stroke-linejoin="round"/>
<path d="M172.6 833.2 C173.1 848 173.8 880 174.8 898.5 S175.8 915 176.6 925" stroke="#ff0000" stroke-width="2.5" fill="none"/>
<path d="M175.8 919.3 176.2 919.7 176.3 920.4 176.3 921.0 176.2 922.2 176.2 922.8 176.3 923.0 176.7 924.3 176.6 924.9 176.8 925.6 177.0 926.3 177.2 927.6 177.3 928.8 177.6 929.5 177.8 930.5 177.6 931.5 178.0 931.7 178.1 933.0 178.1 933.1 178.3 934.1 178.3 935.3 178.7 935.2 178.9 936.3 179.0 936.9 179.2 937.7 179.2 939.4 179.3 939.4 179.4 941.2 179.8 941.6 180.0 942.4 180.2 943.6 180.2 944.2 180.6 945.6 180.6 946.0 181.0 946.4 181.2 947.6 181.2 948.4 181.3 949.6 181.5 950.0 181.7 950.2 182.0 951.9 182.2 952.8 182.4 952.9 182.7 953.8 182.8 954.2 183.1 955.9 183.4 956.5 183.7 957.8 183.9 957.8 184.3 959.0 184.3 959.6 184.7 960.8 184.8 960.9 185.3 961.4 185.4 963.1 185.9 963.2 186.2 964.3 186.3 964.9 186.5 965.3 186.8 965.8 187.0 967.3 187.3 967.1 187.9 968.7 188.1 968.5 188.7 969.4 189.0 970.7 189.5 971.3 189.9 972.6 190.2 972.5 190.5 973.4 191.1 973.8 191.5 975.1 192.0 975.3 192.3 976.5 192.9 977.2 193.1 977.4 193.5 978.1 194.2 978.3 194.6 979.1 195.2 979.9 195.9 980.2 196.5 981.7 196.9 982.0 197.6 982.1 198.4 982.7 198.8 983.2 199.4 984.0 200.3 984.1 200.9 985.2 201.5 985.6 202.0 986.1 202.7 986.0 203.5 986.7 204.6 986.3 205.4 987.3 206.1 986.4 207.1 986.8 207.8 987.2 208.7 987.1 209.7 987.1 210.3 987.1 211.1 986.0 212.0 986.1 212.7 986.8 213.5 985.7 214.2 985.9 215.2 985.3 215.9 986.3 216.7 985.8 217.8 985.9 218.6 985.2 219.3 985.6 220.2 984.9 221.2 984.9 221.8 984.3 222.6 984.0 223.4 983.9 224.3 984.5 224.9 984.7 225.7 984.1 226.4 983.3 227.0 983.5 228.0 984.0 228.8 983.3 229.6 983.4 230.5 982.9 231.4 982.5 232.2 982.5 232.9 981.7 233.7 981.8 234.3 981.2 234.8 980.5 235.6 980.8 236.4 980.7 237.0 980.0 237.8 980.0 238.6 979.1 239.6 979.4 240.1 978.3 241.1 979.0 241.9 978.8 242.5 978.2 243.4 977.9 244.1 977.3 245.1 976.9 245.8 977.3 246.7 977.2 247.4 976.2 248.1 976.4 248.9 976.0 249.6 975.4 250.5 975.1 251.1 974.9 252.0 975.2 253.0 975.0 253.5 975.3 254.5 975.1 255.2 974.4 256.0 974.2 257.0 974.6 257.6 974.6 258.5 973.8 259.2 973.2 260.2 973.3 260.8 974.2 261.6 973.0 262.4 973.2 263.4 972.7 264.1 973.7 265.0 972.6 266.0 973.4 266.5 972.4 267.5 972.6 268.4 972.5 269.2 972.5 269.8 972.7 270.7 971.7 271.7 971.6 272.3 971.9 273.2 971.0 274.1 970.9 274.9 971.1 275.8 971.1 276.5 971.4 277.3 970.2 278.2 971.2 279.2 970.3 279.9 970.6 280.9 971.0 281.7 970.9 282.6 969.8 283.4 970.4 284.6 970.2 285.2 970.0 286.2 970.1 287.2 970.2 288.4 969.9 289.4 969.7 290.1 969.8 291.0 970.4 291.8 969.5 292.9 969.6 293.4 969.5 294.3 969.9 295.0 970.2 295.4 969.4 296.0 970.1 296.3 969.8 297.5 969.8 298.1 969.4 298.9 970.5 299.8 969.6 300.6 970.1 301.2 970.4 302.2 969.6 303.0 970.7 303.9 970.5 304.4 970.8 305.1 970.7 306.1 970.1 306.9 969.9 307.8 970.0 308.5 970.1 309.5 970.5 310.0 970.6 310.8 971.2 311.9 970.9 312.3 970.3 313.2 970.2 314.2 970.8 314.7 969.8 315.6 970.9 316.6 970.7 317.5 970.9 318.2 970.1 319.1 971.2 319.5 969.7 320.8 970.4 321.0 970.7 322.1 970.5 323.0 969.8 323.7 970.8 324.7 970.0 325.5 970.1 326.1 970.8 327.0 971.3 327.8 970.3 328.4 971.1 329.1 970.5 330.0 970.2 331.0 970.2 331.4 970.1 332.7 970.8 333.4 971.6 334.2 969.9 335.1 971.3 335.4 970.6 336.4 970.7 337.0 971.2 337.9 969.8 339.1 971.1 339.5 969.9 340.5 970.6 341.2 971.2 342.4 970.1 343.0 970.3 343.7 970.0 344.7 970.2 345.3 971.2 345.9 970.9 346.9 970.0 348.0 970.2 348.5 970.8 349.4 970.3 349.9 970.3 350.9 971.3 351.8 970.9 352.5 971.5 353.1 971.2 354.0 970.7 354.8 969.9 355.7 971.0 356.3 970.8 357.2 971.1 358.1 969.7 358.6 969.7 359.8 970.1 360.4 970.3 361.3 970.0 362.1 970.9 362.8 971.1 363.8 970.5 364.5 969.9 365.4 970.9 365.9 970.0 367.1 970.5 367.5 971.4 368.3 970.9 369.3 970.4 369.9 970.4 370.8 970.4 371.9 971.8 372.5 970.6 373.1 972.0 374.0 970.8 375.1 970.8 375.8 971.5 376.5 970.7 377.5 971.8 378.0 971.4 379.1 970.3 379.8 970.8 380.4 971.5 381.6 971.0 381.9 971.8 382.7 971.7 383.7 970.1 384.7 971.3 385.1 970.0 386.4 970.7 386.9 970.8 387.5 970.0 388.7 971.4 389.2 971.7 389.8 970.3 390.7 970.0 391.4 971.0 392.7 970.8 393.5 971.8 393.8 971.7 395.1 970.0 395.9 971.7 396.7 970.8 397.3 970.3 398.3 971.2 398.6 971.6 400.0 970.3 400.3 971.0 401.4 969.5 402.3 970.8 402.6 970.6 403.6 970.4 404.7 970.4 405.5 970.5 406.2 969.9 406.9 970.4 407.6 969.4 408.6 970.3 409.4 969.7 409.9 970.8 411.2 969.7 411.5 970.2 412.7 970.7 413.2 970.6 414.0 969.8 414.8 970.0M448.6 971.0 449.5 969.9 449.8 970.1 450.9 970.2 451.8 970.3 452.4 969.9 453.2 970.5 454.1 971.0 455.1 969.5 455.7 969.3 456.5 970.8 457.3 969.4 458.1 970.9 459.1 971.1 459.8 970.4 460.4 970.8 461.5 970.8 462.2 969.7 462.9 970.9 463.8 970.3 464.5 970.0 465.5 970.0 465.8 969.7 467.2 969.5 467.6 969.4 468.4 970.6 469.4 969.1 469.8 970.4 471.2 970.9 471.7 969.7 472.7 970.1 473.5 969.4 473.8 970.7 475.1 970.0 475.9 971.2 476.7 969.8 477.3 970.7 477.9 970.0 478.9 969.5 479.6 970.4 480.6 969.8 481.4 970.6 482.2 970.6 482.9 970.8 483.5 970.2 484.4 970.5 485.6 969.7 486.3 970.7 486.9 971.2 487.8 970.9 488.4 970.1 489.5 970.7 490.1 969.9 490.9 970.9 491.8 970.7 492.4 971.3 493.3 971.6 494.1 971.6 494.6 970.8 496.0 970.9 496.4 971.1 497.4 970.9 497.9 970.8 498.7 970.1 499.6 971.7 500.4 971.8 501.0 970.0 502.0 970.0 503.2 970.5 503.8 970.6 504.3 970.2 505.0 970.3 506.2 971.0 506.9 970.5 507.9 971.5 508.7 971.5 509.2 970.6 510.0 971.1 511.0 970.2 511.6 971.1 512.4 971.1 513.1 971.3 513.9 970.3 514.8 971.5 515.5 971.6 516.8 970.4 517.3 971.1 518.2 969.8 519.2 971.5 519.6 970.1 520.7 971.4 521.0 969.9 522.1 971.2 523.0 970.0 523.9 970.2 524.4 971.4 525.2 970.7 526.2 971.1 526.8 970.8 528.0 970.6 528.4 971.4 529.1 970.1 529.9 971.3 530.8 970.3 531.5 969.8 532.6 970.6 533.3 971.4 533.8 971.4 534.9 971.4 535.4 971.6 536.3 971.6 537.2 970.7 538.1 970.6 539.2 971.3 539.5 970.0 540.3 970.0 541.0 971.5 542.2 970.1 543.0 971.4 543.5 970.8 544.4 971.6 545.5 971.7 546.1 970.4 547.0 970.7 547.5 970.2 548.4 970.3 549.1 970.7 550.1 971.1 550.8 969.9 551.6 970.5 552.4 970.2 553.4 971.0 554.0 971.2 554.8 971.6 555.6 971.8 556.4 971.7 557.5 971.0 558.3 970.3 559.1 971.1 559.8 971.6 560.8 971.2 561.5 970.4 562.4 970.7 563.1 971.3 563.8 971.6 564.6 970.4 565.5 970.2 566.2 971.5 567.2 970.6 567.5 971.1 568.4 971.2 569.2 970.9 570.1 970.6 570.9 969.8 571.6 970.4 572.7 970.4 573.1 971.0 574.0 971.0 574.6 969.6 575.7 969.6 576.5 969.4 577.1 970.6 578.2 970.8 579.1 969.9 579.6 971.2 580.4 970.2 581.1 969.6 581.9 970.4 582.9 969.9 583.5 969.7 584.2 970.2 585.1 969.4 586.2 970.9 586.8 969.9 587.7 969.3 588.6 969.7 589.5 970.2 590.0 969.5 590.8 970.8 591.4 971.0 592.2 970.4 593.1 969.5 594.0 969.8 594.9 970.7 595.5 970.0 596.4 970.3 597.1 970.9 597.9 970.4 598.9 971.3 599.4 970.8 600.5 969.7 601.3 969.9 602.2 970.8 603.1 969.8 603.8 970.5 604.4 970.3 605.2 970.3 606.3 970.0 606.9 971.1 607.6 971.3 608.6 970.9 609.2 970.6 609.8 969.9 611.1 971.0 611.4 970.3 612.3 970.3 613.5 970.6 614.4 970.3 615.1 970.2 615.9 970.9 616.6 969.6 617.5 969.7 618.0 969.9 618.7 970.3 619.8 969.9 620.6 970.1 621.2 970.2 622.0 970.8 623.0 969.9 623.8 970.7 624.6 970.3 625.2 970.6 626.0 970.7 627.1 970.8 627.9 970.4 628.4 970.0 629.2 970.9 630.2 969.4 631.1 970.6 631.8 970.5 632.6 970.2 633.3 970.7 634.0 970.2 634.9 970.1 635.4 970.7 636.7 970.0 637.5 969.3 638.2 970.2 639.0 970.1 639.9 970.1 640.7 970.9 641.3 969.5 642.0 969.8 643.2 971.1 644.0 971.0 644.6 969.6 645.1 970.2 646.2 970.9 647.2 970.7 647.5 969.5 648.2 971.1 649.2 969.8 649.9 971.2 650.9 969.4 651.7 970.5 652.7 970.3 653.4 970.3 653.9 970.4 655.0 970.7 655.7 969.6 656.7 969.4 657.2 970.1 657.8 971.1 658.9 970.0 659.9 970.4 660.5 970.7 661.3 970.9 662.4 970.0 663.2 969.9 663.8 971.6 664.5 970.5 665.1 971.6 665.9 970.4 666.7 971.7 666.9 969.9" stroke="#ff0000" stroke-width="3.9" fill="none" stroke-linejoin="round"/>
<path d="M174.7 904.2 174.7 905.4 174.7 905.0 174.7 906.3 174.8 906.5 174.7 907.5 174.8 907.3 174.6 908.4 174.7 909.5 174.7 910.6 174.8 910.3 175.1 911.7 175.0 912.6 174.9 914.0 175.0 913.8 175.3 914.8 175.1 915.7 175.4 917.6 175.3 918.6 175.2 918.7 175.4 919.6 175.4 920.7 175.3 922.0 175.3 923.3 175.5 923.7 175.6 924.2 175.5 925.8 175.7 925.9 175.9 927.2 175.8 927.0 175.8 928.6 176.0 928.9 175.8 930.0 175.9 931.2 175.8 930.9 175.9 932.6 176.1 932.6 176.0 933.3 176.2 934.4 176.1 935.8 176.4 936.8 176.4 936.9 176.1 937.9 176.3 939.2 176.5 940.2 176.4 941.1 176.7 941.2 176.4 942.2 176.5 943.3 176.7 943.8 176.7 944.3 176.9 946.2 177.1 946.8 177.2 947.0 177.1 948.3 177.0 949.4 177.4 949.6 177.5 951.3 177.6 952.0 177.7 952.3 177.6 953.5 177.9 954.0 177.8 954.3 177.9 954.9 178.2 956.0 178.2 957.6 178.5 958.4 178.5 958.3 178.6 959.4 178.8 960.6 179.0 961.0 178.9 962.7 179.1 963.0 179.4 964.2 179.4 965.0 179.6 965.1 179.5 966.4 179.7 967.4 180.0 968.2 179.9 969.4 180.2 969.5 180.4 971.0 180.6 971.6 180.5 972.0 180.8 972.5 181.0 973.3 181.0 974.0 181.2 975.0 181.3 975.6 181.4 976.1 181.5 976.7 181.8 978.0 182.1 978.6 182.3 980.3 182.4 980.4 182.5 982.2 182.9 982.2 183.0 983.8 183.2 984.0 183.4 985.4 183.8 986.8 184.1 987.1 184.3 987.7 184.5 988.2 184.6 988.9 185.0 990.4 185.2 990.5 185.4 991.5 185.8 992.5 185.9 993.0 186.0 994.1 186.3 994.4 186.6 994.8 186.8 995.7 187.0 996.4 187.3 997.1 188.0 998.4 188.4 998.6 188.6 999.7 188.9 1000.8 189.5 1001.9 189.9 1002.6 190.4 1003.4 190.9 1003.5 191.3 1004.8 191.7 1004.7 192.1 1005.5 192.6 1005.5 193.3 1006.2 193.8 1006.6 194.2 1007.4 194.8 1007.7 195.2 1009.1 195.9 1009.4 196.8 1010.4 197.5 1010.2 198.0 1011.3 198.6 1011.7 199.4 1011.6 200.0 1011.9 200.6 1012.9 201.5 1013.1 201.8 1013.4 203.0 1014.1 203.7 1013.5 204.4 1014.1 205.1 1014.4 206.0 1014.1 206.9 1014.5 207.8 1014.6 208.6 1014.9 209.9 1014.7 210.5 1014.8 211.1 1014.4 211.9 1014.9 212.7 1014.7 213.7 1015.0 214.3 1014.4 215.1 1014.0 215.9 1014.1 216.9 1014.3 217.5 1014.3 218.6 1013.5 219.5 1013.6 220.3 1013.0 221.0 1013.2 221.7 1012.2 222.6 1012.4 223.5 1011.8 224.2 1011.7 224.7 1012.2 225.7 1011.9 226.2 1010.8 227.3 1010.5 227.8 1010.9 228.9 1009.7 229.6 1009.8 230.5 1009.2 231.3 1009.2 232.0 1008.5 233.0 1008.8 233.6 1009.0 234.3 1008.8 235.1 1008.2 235.8 1007.3 236.8 1007.9 237.5 1007.6 238.4 1007.2 239.0 1006.6 239.9 1006.7 240.6 1005.7 241.5 1006.3 242.2 1005.7 243.2 1005.7 244.1 1005.7 245.0 1005.3 245.9 1004.9 246.5 1004.6 247.4 1003.4 248.0 1003.9 248.9 1003.3 249.6 1003.3 250.5 1002.4 251.1 1002.4 252.0 1001.9 252.8 1002.7 253.7 1002.0 254.5 1001.9 255.1 1002.0 255.9 1001.6 256.7 1001.7 257.5 1001.4 258.4 1000.4 259.2 1000.6 260.0 999.8 260.8 999.8 261.6 999.5 262.4 1000.3 263.4 999.3 264.2 999.9 264.8 999.3 265.8 998.9 266.4 998.6 267.4 998.7 268.2 998.2 268.9 998.1 269.6 997.7 270.4 997.7 271.3 997.0 271.9 997.7 272.6 997.3 273.5 996.7 274.5 996.8 275.2 996.4 275.9 997.0 276.8 996.2 277.4 996.8 278.4 996.0 279.0 995.9 279.8 996.6 280.7 996.7 281.8 996.1 282.6 996.3 283.5 995.4 284.5 995.4 285.4 995.3 286.4 995.5 287.4 995.6 288.3 995.3 289.3 995.6 290.1 995.4 291.1 995.7 291.8 995.1 292.7 995.0 293.5 994.7 294.2 994.9 295.0 994.7 295.7 994.4 296.1 994.4 296.3 995.0 297.2 994.7 298.1 995.3 299.0 994.6 299.8 995.4 300.4 994.8 301.3 995.0 302.3 994.8 302.9 994.8 303.7 994.9 304.5 994.6 305.4 994.6 306.2 994.4 306.9 994.3 307.8 995.0 308.7 995.3 309.5 995.1 310.1 994.6 311.0 994.4 311.9 995.2 312.7 994.0 313.2 994.4 314.3 995.1 314.9 994.6 315.6 994.2 316.3 994.6 317.3 995.0 318.0 993.8 319.1 994.5 319.7 994.9 320.6 995.3 321.3 994.2 321.9 994.5 323.1 994.0 323.8 994.9 324.6 994.4 325.5 995.2 326.1 994.5 326.9 994.6 327.8 995.6 328.2 995.6 329.1 993.9 329.9 995.0 331.0 994.0 331.8 995.8 332.8 995.2 333.4 994.6 334.3 994.5 334.6 995.8 335.8 994.0 336.3 994.3 337.6 995.4 338.4 995.7 338.9 995.6 340.0 995.4 340.6 994.1 341.5 995.3 342.1 994.1 343.1 995.8 343.8 994.2 344.7 994.2 345.4 994.4 346.3 994.2 346.8 994.4 347.7 995.5 348.4 995.5 349.6 994.3 350.3 994.3 350.8 994.5 351.9 995.6 352.4 995.5 353.0 994.7 354.2 994.8 354.7 994.9 355.8 995.2 356.2 995.4 357.3 995.4 357.9 995.9 358.9 995.7 359.6 994.7 360.4 995.5 361.5 994.9 362.1 994.1 362.7 994.3 363.6 994.1 364.2 995.6 365.1 994.8 365.8 994.4 366.7 994.6 368.0 994.0 368.7 994.1 369.2 994.7 370.2 994.6 371.1 995.9 372.0 995.8 372.5 996.0 373.5 994.4 374.3 994.8 374.7 994.2 375.6 995.6 376.6 995.2 377.4 994.7 377.8 994.6 379.1 994.8 379.5 995.0 380.8 994.9 381.1 995.9 381.9 995.7 383.1 995.6 383.4 995.4 384.8 994.7 385.5 995.9 386.3 994.7 387.2 994.3 387.6 994.5 388.8 994.1 389.4 995.6 390.2 994.2 390.7 995.7 391.5 996.0 392.4 996.0 393.0 995.0 394.3 995.1 394.8 995.0 396.0 995.5 396.6 995.8 397.6 995.7 397.8 995.1 399.1 996.0 399.8 995.6 400.6 995.0 401.3 994.5 402.2 994.9 403.0 994.5 404.0 994.9 404.3 996.1 405.3 995.0 406.1 994.7 406.9 995.7 407.5 994.8 408.5 996.0 409.2 994.7 410.0 994.4 411.0 994.5 411.7 996.2 412.4 995.3 413.4 994.6 414.3 996.0 414.8 995.7 415.8 996.0 416.6 996.2 417.0 995.6 418.3 995.2 418.7 996.3 419.6 994.6 420.4 995.2 421.5 994.9 421.8 996.0 422.6 995.5 423.8 995.6 424.7 996.0 425.6 996.2 425.8 996.3 426.8 996.4 427.8 996.3 428.4 995.9 429.3 995.7 430.4 994.8 430.7 995.4 431.7 996.2 432.4 996.2 433.0 995.9 434.2 995.6 434.9 995.3 435.5 996.0 436.4 995.8 437.2 994.7 438.3 994.8 438.6 995.7 439.7 994.7 440.3 995.3 441.1 994.8 441.9 995.1 443.0 994.9 443.5 995.9 444.8 995.8 445.3 995.6 446.0 995.2 446.6 995.4 447.7 994.4 448.6 995.6 449.1 995.6 450.3 994.7 451.1 996.0 451.5 994.8 452.3 994.8 453.3 994.3 453.8 995.0 455.1 995.3 455.5 995.7 456.5 994.9 457.3 995.1 458.0 995.1 459.0 995.4 459.8 994.8 460.6 994.9 461.1 995.2 462.2 993.7 462.7 995.4 463.4 993.8 464.7 994.0 465.1 995.1 466.0 995.2 466.7 995.6 467.9 995.2 468.3 994.7 469.1 994.0 470.0 994.2 470.8 994.8 471.8 995.0 472.7 995.3 473.3 994.1 474.0 994.9 474.7 995.6 475.9 995.6 476.6 994.3 477.6 994.1 478.3 994.5 478.9 995.3 479.8 994.0M514.0 995.4 514.7 994.0 515.9 994.2 516.7 994.1 517.5 995.7 518.2 995.2 518.8 994.3 519.7 994.3 520.6 994.5 521.3 994.9 522.4 995.5 522.9 995.4 523.9 995.8 524.2 994.5 525.2 995.4 526.3 995.5 527.2 994.1 527.7 994.9 528.8 994.7 529.3 995.0 530.3 995.2 531.2 995.6 531.8 994.6 532.5 995.4 533.2 994.0 534.4 995.2 534.6 995.5 535.8 994.8 536.6 995.7 537.2 995.7 538.3 995.1 539.0 995.1 540.0 995.8 540.7 994.5 541.2 995.5 542.0 995.2 542.9 994.9 543.9 995.2 544.7 995.5 545.0 995.8 546.0 995.5 547.0 994.4 547.7 994.6 548.4 994.6 549.3 995.5 550.0 994.3 551.2 994.7 551.6 994.6 552.6 994.8 553.4 994.5 553.9 995.7 554.8 995.7 555.6 995.8 556.5 995.0 557.1 996.0 557.9 995.7 558.7 995.6 559.6 995.5 560.6 996.4 561.3 995.3 561.9 994.9 562.8 995.8 563.7 994.9 564.5 995.3 565.0 996.2 566.1 995.3 566.8 995.5 568.0 994.9 568.6 996.2 569.0 995.6 569.9 995.1 570.8 994.7 571.6 995.7 572.3 995.9 573.4 996.1 574.1 996.2 574.9 994.6 575.8 995.0 576.3 995.0 577.5 996.1 578.1 996.0 578.6 996.0 580.0 995.3 580.3 995.7 581.0 995.2 582.4 996.1 582.9 995.0 583.7 994.7 584.6 995.2 585.5 995.5 586.3 994.8 587.0 995.0 587.7 996.0 588.3 995.7 589.2 994.7 590.3 995.3 590.7 995.5 592.0 995.9 592.6 995.1 593.0 996.1 594.0 994.6 595.2 995.6 595.8 995.2 596.6 995.7 597.0 995.5 597.9 995.1 598.7 994.5 599.7 994.8 600.8 994.4 601.2 995.1 602.0 994.9 602.8 995.1 603.4 994.1 604.5 994.3 605.2 995.1 606.0 994.7 607.0 995.2 607.9 995.6 608.4 995.4 609.2 995.9 610.3 994.5 610.7 995.2 611.9 995.9 612.7 996.1 613.5 995.4 614.3 995.4 614.7 995.3 615.8 994.9 616.5 994.1 617.3 995.4 618.2 994.7 619.1 995.2 619.5 995.1 620.4 994.6 621.2 995.8 622.3 995.2 622.8 994.1 623.7 995.6 624.8 995.5 625.5 994.0 626.3 995.5 627.1 994.9 627.8 994.0 628.4 994.6 629.5 995.8 630.3 994.7 630.9 996.0 631.5 994.9 632.3 994.4 633.5 994.4 634.3 994.8 634.8 995.1 635.4 995.1 636.7 996.0 637.3 995.0 638.4 995.7 638.6 994.3 639.9 995.8 640.6 995.2 641.0 995.0 641.8 995.2 643.2 994.5 643.9 995.0 644.7 994.3 645.1 995.2 645.9 995.8 646.6 994.5 647.8 994.2 648.6 994.9 649.4 994.0 649.9 994.6 651.0 995.1 651.7 995.0 652.4 995.6 653.6 993.9 653.8 994.0 654.7 995.3 655.9 994.3 656.6 994.8 657.4 994.0 658.1 994.0 658.9 993.9 659.9 995.0 660.5 995.4 661.3 994.6 661.9 995.6 662.8 994.2 663.4 994.2 664.2 994.1 665.4 994.4 666.0 994.9 667.1 995.2 667.1 995.2" stroke="#ff0000" stroke-width="3.5" fill="none" stroke-linejoin="round"/>
<path d="M172.8 880.6 173.0 880.5 173.2 881.6 173.1 881.3 173.1 882.5 173.1 883.0 173.0 883.5 173.1 884.3 173.1 885.0 173.1 885.7 173.1 886.4 173.1 887.4 173.2 888.1 173.2 888.1 173.4 889.2 173.3 890.2 173.4 890.6 173.5 892.5 173.6 893.2 173.6 893.4 173.5 894.3 173.5 895.4 173.5 896.7 173.5 897.5 173.7 898.2 173.7 899.7 173.9 900.2 173.8 901.0 173.7 902.6 173.8 903.0 174.1 903.8 174.1 905.1 173.9 905.8 174.1 906.8 173.9 907.7 173.9 908.8 174.2 910.0 174.3 910.8 174.4 911.6 174.2 912.2 174.2 912.7 174.4 914.2 174.3 914.7 174.3 914.9 174.4 916.6 174.7 917.0 174.6 917.7 174.7 918.4 174.7 919.9 174.6 920.7 174.8 921.9 174.6 922.8 175.0 923.6 174.9 924.0 174.8 924.3 175.1 925.6 175.1 926.0 175.0 927.4 175.1 928.1 175.2 928.7 175.3 929.0 175.2 930.2 175.5 931.1 175.3 932.0 175.6 932.0 175.6 932.9 175.7 933.5 175.9 935.0 175.9 935.1 175.8 936.6 176.1 937.2 175.9 937.2 176.3 938.9 176.3 938.8 176.3 939.6 176.4 940.8 176.6 941.2 176.6 942.3 176.6 943.9 176.8 944.9 176.9 945.5 177.0 945.8 177.3 946.8 177.4 948.2 177.5 948.6 177.3 949.8 177.5 950.0 177.6 950.9 178.0 951.9 178.1 952.3 178.2 953.1 178.2 954.4 178.5 954.9 178.4 955.9 178.5 955.9 178.8 957.0 179.1 957.8 179.0 958.4 179.1 959.0 179.5 959.7 179.4 960.5 179.7 962.0 179.9 962.3 180.0 963.4 180.1 964.6 180.5 965.5 180.6 966.5 180.8 966.6 181.1 967.9 181.1 968.9 181.1 969.5 181.5 970.3 181.7 970.5 181.8 971.9 182.3 972.1 182.3 972.9 182.4 973.9 182.9 975.1 183.0 975.0 183.4 975.6 183.5 976.7 183.9 978.1 184.2 978.2 184.2 979.2 184.5 980.6 184.8 980.4 185.0 982.0 185.3 982.1 185.6 983.5 186.1 984.0 186.3 984.8 186.4 985.9 186.7 986.5 187.0 987.3 187.7 988.1 187.8 989.1 188.0 989.4 188.3 990.3 188.9 990.7 189.1 991.9 189.6 992.7 189.8 993.2 190.0 994.5 190.6 995.1 191.0 995.0 191.4 996.3 191.8 997.3 192.0 998.0 192.7 998.7 192.8 999.4 193.4 1000.0 193.7 1000.9 194.1 1001.5 194.6 1002.5 195.0 1002.5 195.4 1003.9 196.0 1003.8 196.5 1005.0 196.9 1005.3 197.4 1005.5 198.1 1005.8 198.7 1006.4 199.3 1006.6 200.0 1007.4 200.9 1008.1 201.6 1008.1 202.4 1008.3 203.3 1008.5 204.0 1009.3 204.7 1009.0 205.8 1009.4 206.6 1009.5 207.4 1009.1 208.0 1009.9 209.2 1009.4 209.9 1009.3 210.7 1010.1 211.4 1009.8 212.1 1009.2 212.8 1009.5 213.6 1008.7 214.3 1007.8 215.0 1008.5 215.9 1007.4 216.8 1006.5 217.5 1006.1 218.1 1005.9 218.7 1005.8 219.6 1005.9 220.3 1005.3 221.0 1004.6 221.8 1004.0 222.4 1004.1 223.2 1002.6 224.1 1002.3 224.6 1002.6 225.2 1001.8 226.2 1000.7 226.6 1000.9 227.3 1000.2 228.1 1000.2 228.8 998.8 229.3 998.4 229.9 998.8 230.8 997.5 231.5 997.5 232.1 996.3 232.7 995.9 233.4 996.4 234.2 995.8 235.0 995.4 235.5 994.4 236.1 994.1 236.8 993.5 237.7 993.5 238.4 992.2 239.0 991.8 239.5 991.9 240.5 991.5 240.9 990.9 241.7 990.4 242.4 989.4 243.2 989.5 243.9 989.1 244.4 988.0 245.3 988.3 245.8 987.6 246.7 986.7 247.4 986.5 248.0 986.1 248.9 985.5 249.5 984.9 250.3 984.3 251.2 983.9 251.9 984.5 252.7 984.0 253.5 982.6 254.2 982.7 255.0 982.2 255.9 981.7 256.6 981.9 257.4 981.4 258.3 980.8 259.3 981.2 260.0 980.5 260.9 980.4 261.5 979.4 262.6 979.0 263.2 979.1 264.2 979.4 264.9 978.7 265.6 978.6 266.3 977.6 267.1 978.0 267.8 977.0 268.6 977.4 269.4 976.6 269.9 976.3 271.0 975.6 271.8 976.2 272.3 975.3 273.4 975.2 274.0 975.4 274.8 974.8 275.7 974.4 276.5 974.2 277.3 974.3 278.1 973.7 279.1 974.3 279.8 973.6 280.7 973.9 281.5 973.4 282.3 973.1 283.1 973.4 283.9 972.6 284.7 973.0 285.4 972.9 286.2 973.0 287.2 972.3 288.4 972.4 288.9 972.8 289.8 972.4 290.3 971.8 291.3 972.4 292.2 972.2 292.8 972.5 293.6 972.4 294.6 972.2 295.4 972.4 296.3 972.3 297.3 971.6 298.1 971.5 298.8 971.6 300.0 971.5 300.6 972.1 301.4 971.5 302.4 971.3 303.3 971.1 304.2 971.5 305.4 971.7 306.3 971.2 307.3 970.7 308.2 971.1 309.3 971.2 310.2 971.4 311.1 970.4 311.8 970.2 312.7 970.8 313.3 970.5 314.0 970.1 314.4 971.0 315.1 970.1 315.7 970.9 316.8 970.7 317.3 969.8 318.4 970.8 318.9 970.8 319.7 970.9 320.6 970.9 321.2 970.9 322.4 970.6 322.8 970.0 323.6 970.8 324.5 970.0 325.4 971.0 326.4 970.2 327.2 971.0 327.9 970.4 328.6 970.3 329.4 970.9 330.1 971.3 331.0 970.4 331.7 970.9 332.8 970.3 333.5 969.9 334.1 971.1 335.1 971.2 335.8 970.5 336.5 971.4 337.2 971.5 338.1 971.0 339.2 971.3 339.7 971.4 340.5 970.3 341.6 970.1 342.5 970.3 343.0 969.9 343.7 970.5 344.7 970.6 345.6 971.0 346.0 969.5 346.8 970.4 347.9 969.8 348.5 971.1 349.6 969.5 350.4 970.3 351.1 969.4 351.6 970.8 352.4 969.3 353.4 970.6 354.3 970.6 355.3 971.0 355.9 971.0 356.5 969.3 357.5 970.6 358.1 970.5 359.2 969.8 359.6 969.6 360.4 970.3 361.1 969.5 362.4 971.0 363.2 970.1 363.6 970.8 364.6 971.3 365.3 969.6 366.5 969.7 366.8 969.6 367.6 971.1 368.4 970.7 369.3 971.3 370.1 970.8 370.8 970.7 371.8 971.0 372.9 970.9 373.2 970.7 374.2 971.4 375.1 969.8 375.9 970.4 376.3 970.1 377.1 969.9 378.4 970.0 379.0 969.9 379.8 969.8 380.7 970.5 381.2 969.7 382.5 969.8 382.8 971.2 384.1 971.5 384.7 970.5 385.4 971.2 386.1 969.7 386.7 969.8 388.1 969.8 388.7 970.7 389.5 970.1 390.0 971.0 390.8 969.8 392.0 970.9 392.8 970.0 393.5 970.1 394.0 969.8 394.8 971.1 395.8 971.1 396.5 970.9 397.2 970.7 397.9 970.6 398.9 970.9 400.0 971.2 400.8 970.7 401.5 969.5 402.0 971.2 403.0 970.2 404.0 970.1 404.7 969.9 405.3 969.9 406.2 970.2 407.3 970.6 407.9 969.5 408.9 969.7 409.5 970.6 410.0 969.9 411.3 969.7 411.8 970.7 412.5 970.3 413.5 971.3 414.4 970.0M448.7 969.6 449.3 970.0 450.3 970.0 451.2 970.1 451.7 971.6 452.4 970.0 453.5 971.0 454.0 969.8 454.8 971.0 456.0 969.9 456.4 971.5 457.3 970.4 458.1 970.0 458.8 971.0 459.6 970.7 460.8 971.4 461.6 970.2 462.1 971.8 463.0 971.5 463.8 970.8 464.8 971.3 465.5 971.3 466.0 971.2 466.9 970.8 467.6 970.1 468.8 971.2 469.3 971.8 470.3 971.3 470.8 971.4 471.8 970.6 472.9 970.4 473.5 971.0 474.2 971.0 475.2 972.0 475.6 971.8 476.4 971.8 477.3 970.1 478.1 971.3 478.8 971.8 479.8 971.5 480.9 971.9 481.3 970.6 482.3 971.6 482.7 970.8 483.9 971.2 484.6 970.7 485.5 970.4 486.1 971.2 487.3 971.2 487.5 971.6 488.5 970.7 489.3 971.7 490.5 970.2 490.8 971.3 492.0 970.1 492.7 971.3 493.2 970.4 494.1 969.7 494.8 971.0 495.6 969.9 496.6 971.7 497.3 971.2 498.4 970.6 499.2 971.6 499.5 971.2 500.8 970.9 501.5 970.4 502.4 970.3 503.0 970.3 503.9 970.5 504.5 970.4 505.3 970.1 506.1 972.1 506.9 970.8 507.8 971.0 508.5 971.5 509.2 971.8 510.3 970.9 510.7 970.9 511.6 970.6 512.4 971.0 513.3 971.5 513.9 972.1 515.2 970.5 515.8 971.8 516.8 971.9 517.6 972.1 518.4 970.6 518.8 971.0 519.7 970.3 520.4 970.1 521.4 970.0 522.5 970.1 523.0 971.9 524.1 970.3 524.7 971.0 525.2 971.1 526.3 970.7 527.3 970.0 527.6 971.6 528.5 969.9 529.6 970.4 530.1 970.8 530.9 969.9 532.0 970.6 532.5 971.1 533.4 971.7 534.2 970.8 535.3 970.2 535.8 971.0 536.8 970.0 537.6 971.5 538.3 971.4 539.0 970.6 539.9 970.7 540.8 971.4 541.2 970.9 542.0 970.6 542.8 970.3 544.0 971.9 544.7 970.9 545.6 970.0 545.9 970.7 547.2 970.3 547.9 971.2 548.3 970.1 549.3 971.9 550.3 970.7 551.0 971.3 551.7 970.0 552.7 971.2 553.2 970.5 554.0 970.5 554.8 970.2 555.5 971.8 556.7 970.2 557.3 971.0 558.0 971.2 559.1 971.1 559.7 970.5 560.9 971.0 561.5 970.7 562.3 971.7 562.8 971.8 563.7 971.5 564.6 971.7 565.5 971.8 566.5 970.1 567.1 970.9 567.8 971.4 568.6 970.3 569.3 970.9 570.0 970.1 571.0 971.6 571.7 970.4 572.6 970.5 573.2 970.0 574.4 969.9 574.9 970.5 575.8 970.9 576.4 970.0 577.7 971.0 578.3 970.9 578.7 969.6 579.8 971.0 580.8 970.2 581.4 971.2 582.2 971.0 582.7 970.5 584.1 971.4 584.7 970.6 585.3 970.5 586.0 969.5 586.8 970.3 587.6 969.7 588.7 970.5 589.6 969.7 590.1 970.9 590.9 971.6 591.6 969.8 592.5 970.0 593.3 970.2 594.3 970.3 595.2 971.0 595.8 970.0 596.7 970.9 597.6 971.9 598.1 971.0 598.9 970.0 599.8 971.9 600.6 970.9 601.2 971.9 602.3 971.1 603.0 970.8 603.9 969.9 604.3 970.5 605.7 971.7 606.3 970.2 607.2 970.7 607.6 970.1 608.8 971.2 609.5 969.7 610.5 970.7 611.2 971.3 611.6 970.5 612.6 970.7 613.3 970.1 614.3 969.6 615.0 970.3 615.6 969.7 616.7 969.4 617.7 969.7 618.1 970.4 619.3 969.8 619.6 969.7 620.5 970.6 621.3 969.4 622.1 970.0 622.8 970.0 623.8 971.1 624.5 970.6 625.4 970.8 626.4 970.0 626.8 971.1 627.8 969.6 628.8 970.8 629.3 970.5 630.3 971.0 630.9 971.0 632.0 970.2 632.5 971.0 633.6 970.7 634.1 970.4 634.9 970.3 635.6 969.9 636.7 970.8 637.3 969.8 638.3 970.7 638.8 970.2 639.5 969.5 640.6 969.9 641.5 970.6 641.9 970.3 642.7 971.3 643.7 971.1 644.4 970.4 645.4 969.8 646.3 971.0 646.8 969.8 648.0 970.3 648.6 971.1 649.1 969.6 650.3 970.6 651.1 969.6 652.0 971.2 652.5 971.0 653.2 971.0 654.0 970.9 654.8 971.0 655.6 970.8 656.8 970.9 657.5 969.7 658.1 970.1 659.1 970.1 659.9 970.8 660.7 971.3 661.4 971.0 662.0 969.6 662.8 970.4 663.9 969.9 664.9 969.3 665.3 971.0 666.2 971.0 667.2 970.3 667.2 970.1" stroke="#0000ff" stroke-width="2.7" fill="none" stroke-linejoin="round"/>
<path d="M172.6 911.4 172.6 912.3 172.6 912.4 172.8 913.4 172.7 914.0 172.6 914.5 172.7 915.0 172.8 915.9 172.7 917.0 172.8 917.0 172.8 918.1 172.7 918.9 173.0 919.8 173.0 921.4 172.8 922.0 173.0 923.3 173.1 923.4 173.0 924.4 173.1 925.9 173.1 926.2 173.1 928.1 173.0 928.7 173.2 929.9 173.4 930.5 173.4 931.7 173.1 932.7 173.4 932.6 173.3 934.3 173.3 934.2 173.4 935.1 173.5 936.3 173.5 937.0 173.5 937.4 173.4 938.5 173.7 940.2 173.4 941.0 173.4 941.8 173.6 942.5 173.5 943.1 173.7 944.1 173.5 945.1 173.5 945.8 173.8 947.2 173.8 947.8 173.8 948.0 173.6 949.5 173.6 950.3 173.7 950.9 173.8 951.3 173.7 952.2 173.7 952.9 173.8 954.1 174.0 954.0 173.8 955.1 174.1 956.2 173.9 956.3 173.9 957.8 174.2 958.2 174.1 959.9 174.3 959.6 174.4 960.6 174.3 962.3 174.4 962.8 174.7 963.3 174.6 964.3 174.7 965.5 175.0 965.2 174.7 966.9 174.9 967.4 175.0 967.6 175.0 969.3 175.2 969.6 175.4 970.4 175.6 970.7 175.5 971.6 175.5 972.8 175.8 974.1 175.8 974.6 175.9 975.3 175.9 976.0 175.9 976.3 176.2 977.7 176.2 978.9 176.5 979.6 176.7 980.3 176.7 980.8 176.6 982.1 176.7 982.5 176.9 983.5 177.1 984.2 177.2 984.4 177.5 985.7 177.4 985.9 177.4 986.7 177.6 987.4 177.9 988.1 178.0 989.6 178.1 990.5 178.1 990.8 178.2 992.5 178.4 993.0 178.4 994.1 178.7 994.4 178.9 995.9 178.8 996.0 178.9 996.5 179.2 997.4 179.5 998.2 179.3 999.1 179.7 1000.1 179.7 1001.1 179.8 1002.1 180.1 1003.1 180.0 1004.0 180.2 1004.3 180.5 1005.3 180.6 1006.1 180.6 1005.8 181.1 1007.2 181.0 1007.6 181.5 1009.4 181.5 1010.2 181.9 1010.3 182.0 1010.7 182.1 1012.3 182.5 1012.6 182.7 1013.8 183.0 1014.0 183.2 1015.1 183.5 1016.4 183.8 1016.9 184.0 1017.3 184.4 1018.7 184.4 1019.5 184.8 1020.0 184.8 1020.9 185.3 1022.0 185.6 1022.3 185.6 1022.6 186.0 1023.9 186.3 1025.3 186.4 1026.0 186.9 1025.9 187.0 1027.7 187.2 1028.2 187.6 1028.4 188.0 1029.7 188.3 1030.5 188.3 1031.5 188.8 1032.1 189.3 1033.3 189.5 1033.7 189.8 1034.6 190.4 1035.1 190.8 1035.6 191.2 1036.4 191.6 1037.1 191.8 1038.5 192.2 1039.1 192.8 1039.6 193.2 1040.5 193.6 1040.6 194.0 1041.3 194.8 1042.1 195.4 1042.6 195.9 1042.7 196.5 1043.5 197.2 1044.3 197.8 1044.9 198.7 1044.7 199.3 1045.5 200.0 1045.9 200.7 1046.1 201.3 1045.9 202.0 1046.6 202.7 1047.0 203.4 1047.0 204.4 1046.3 204.8 1046.0 205.6 1046.2 206.3 1046.5 207.1 1045.6 207.9 1045.4 208.9 1044.6 209.8 1044.9 210.3 1043.5 210.8 1043.4 211.7 1043.9 212.4 1043.4 212.8 1042.5 213.7 1041.7 214.1 1041.2 215.1 1040.4 215.7 1040.1 216.5 1039.8 217.2 1039.5 217.6 1039.3 218.5 1038.2 219.1 1037.3 219.6 1036.9 220.5 1036.3 221.2 1036.4 221.6 1035.2 222.1 1034.7 222.9 1034.4 223.4 1033.5 224.0 1033.8 224.3 1033.1 224.7 1032.3 225.3 1031.2 226.0 1031.0 226.6 1030.2 227.1 1029.6 227.3 1029.4 228.1 1027.8 228.6 1028.1 229.0 1027.6 229.6 1026.6 230.0 1026.1 230.6 1026.1 231.5 1024.8 232.1 1024.1 232.7 1024.5 233.4 1023.4 234.2 1022.7 235.1 1022.1 235.7 1021.7 236.3 1021.7 236.8 1021.7 237.7 1021.1 238.2 1020.5 238.9 1020.0 239.7 1019.5 240.1 1018.5 240.9 1018.3 241.6 1018.3 242.1 1017.2 242.8 1017.2 243.3 1016.5 244.0 1016.3 244.7 1015.8 245.4 1015.2 245.9 1014.2 246.6 1014.1 247.4 1013.7 248.1 1013.4 248.8 1012.2 249.4 1012.5 250.0 1011.2 250.9 1011.0 251.5 1010.7 252.3 1009.9 252.9 1009.7 253.4 1008.9 254.5 1008.2 255.1 1007.8 255.7 1008.3 256.5 1007.0 257.2 1006.4 257.9 1006.0 258.8 1006.4 259.4 1005.3 260.2 1005.0 261.0 1005.2 261.7 1004.3 262.6 1004.9 263.2 1004.5 264.1 1003.5 264.8 1003.4 265.6 1003.1 266.3 1002.7 267.0 1002.1 267.7 1001.9 268.5 1002.1 269.4 1001.0 269.9 1001.5 270.9 1000.6 271.7 1000.4 272.5 1000.0 273.2 999.7 273.9 999.6 274.5 1000.1 275.4 999.6 275.9 999.9 276.6 999.5 277.9 999.0 278.7 998.5 279.9 999.3 280.6 998.4 281.1 998.5 281.9 998.9 282.7 998.2 283.5 999.2 284.1 998.6 285.1 999.2 285.8 998.2 286.8 998.1 287.7 999.0 288.5 998.5 289.4 998.8 290.2 998.6 291.3 998.3 292.0 997.5 293.2 997.7 294.0 997.5 294.7 997.9 295.6 997.5 296.4 997.8 297.2 997.7 298.3 997.6 298.9 997.8 299.7 997.7 300.6 997.8 301.5 997.7 302.4 997.5 303.3 996.9 303.9 997.4 304.7 997.8 305.6 997.6 306.6 997.0 307.2 997.6 308.2 996.9 308.9 996.4 309.9 997.4 310.7 997.4 311.7 996.5 312.4 997.0 313.3 996.1 314.0 996.0 314.8 996.2 315.9 996.9 316.6 996.0 317.6 996.5 318.4 996.5 319.5 996.3 320.4 996.1 321.3 995.6 322.3 995.7 323.2 995.6 324.0 995.6 324.7 995.7 325.6 995.5 326.4 996.2 327.3 995.6 328.0 996.0 328.5 995.9 329.0 995.1 329.7 995.2 329.9 995.9 330.9 995.3 331.5 995.1 332.5 994.8 333.1 995.5 333.9 995.6 334.9 994.8 335.5 995.1 336.5 995.2 337.4 995.1 338.0 995.2 338.9 995.6 339.6 995.5 340.2 995.1 341.2 994.8 341.9 995.0 343.0 995.2 343.7 995.5 344.5 996.2 345.4 995.4 345.9 995.3 346.9 995.2 347.5 996.3 348.2 996.2 349.4 996.1 349.8 995.3 350.7 995.0 351.4 996.1 352.4 994.8 353.4 994.7 353.8 995.1 354.6 994.8 355.5 994.6 356.4 995.9 357.3 995.4 357.9 995.5 358.6 995.1 359.6 996.4 360.3 995.5 361.3 995.6 361.9 995.3 363.0 995.6 363.8 996.1 364.5 994.9 365.4 996.4 366.0 996.3 366.8 994.5 367.5 994.4 368.4 995.0 369.0 995.8 369.8 995.5 370.6 995.8 371.7 995.3 372.6 996.1 373.4 995.8 374.0 994.2 374.5 995.7 375.7 995.7 376.2 995.3 377.0 994.3 378.2 996.0 378.7 995.8 379.6 996.0 380.6 994.9 381.0 995.8 381.9 994.3 382.6 995.5 383.3 995.3 384.2 995.3 385.3 994.3 385.9 995.4 387.1 994.4 387.3 994.9 388.1 994.1 389.0 993.9 390.0 994.5 391.0 994.5 391.6 995.6 392.3 994.2 393.1 994.6 394.0 994.8 394.7 994.4 395.6 994.2 396.6 995.1 397.5 994.9 397.9 994.6 398.6 994.2 399.7 995.8 400.3 995.9 401.4 994.8 402.3 994.7 402.9 995.1 403.3 995.9 404.5 994.9 405.2 995.6 405.9 995.0 406.5 994.6 407.6 996.2 408.4 995.2 408.9 995.4 409.9 995.6 410.6 994.8 411.8 995.8 412.3 995.0 413.0 995.8 414.3 994.4 415.1 996.2 415.7 995.5 416.5 996.1 417.2 995.5 417.8 995.8 418.8 994.7 419.9 995.9 420.4 995.6 421.3 996.4 422.3 995.0 422.9 994.9 423.4 996.2 424.2 994.6 425.2 995.0 425.8 994.5 426.8 994.3 427.3 995.0 428.3 994.6 429.1 994.6 430.3 995.5 430.9 995.0 431.5 995.3 432.6 994.3 433.3 994.3 433.9 994.4 434.9 995.0 435.5 994.4 436.5 994.7 437.3 995.5 438.1 996.1 439.0 995.8 439.8 995.6 440.3 995.6 441.1 994.3 441.9 995.9 442.7 995.8 443.8 994.9 444.2 995.6 445.2 994.4 446.3 995.9 446.9 995.5 447.9 995.1 448.1 996.3 449.1 995.8 450.3 994.4 450.8 994.5 451.7 994.9 452.2 995.4 452.9 995.8 454.0 996.4 454.8 996.2 455.4 994.8 456.4 996.1 457.0 995.6 457.9 996.1 458.6 994.8 459.9 996.7 460.3 995.5 461.0 995.4 462.0 995.4 463.0 995.4 463.4 995.4 464.5 996.4 465.1 996.3 465.9 994.8 466.9 996.0 467.4 995.0 468.4 995.3 469.2 995.1 470.2 996.2 470.8 995.8 471.5 995.6 472.2 996.1 473.1 996.4 473.8 995.2 474.9 995.4 475.9 996.3 476.2 996.0 477.3 995.4 477.8 995.1 478.6 996.6 479.3 996.3M513.7 996.1 514.5 994.9 515.8 995.8 516.5 996.7 517.1 995.3 518.1 996.5 518.8 995.8 519.5 996.5 520.7 995.0 521.2 995.8 521.9 994.9 523.1 995.1 523.6 996.1 524.4 995.2 525.1 995.3 526.0 996.1 526.5 996.1 527.8 994.5 528.5 995.9 529.0 996.0 530.1 996.5 531.0 994.7 531.4 996.4 532.2 995.9 533.2 994.9 534.2 995.3 534.6 995.2 535.3 994.9 536.2 994.8 537.4 996.1 537.9 995.6 538.6 995.9 539.9 995.5 540.1 994.8 541.0 994.8 541.7 994.9 542.9 994.5 543.7 995.8 544.2 994.8 545.0 994.6 545.8 994.0 546.8 995.5 547.7 994.1 548.4 995.5 549.2 994.6 549.7 994.1 550.8 995.6 551.7 995.0 552.6 994.8 552.9 995.9 553.8 995.1 554.9 994.6 555.5 996.0 556.5 995.7 557.4 995.6 557.9 994.4 559.1 995.8 559.7 994.6 560.1 994.4 560.9 995.7 562.1 995.9 563.0 995.5 563.3 995.6 564.6 994.2 564.9 995.4 565.9 995.0 566.6 995.4 567.4 996.2 568.1 995.7 568.9 994.9 570.2 995.8 570.9 994.5 571.9 994.9 572.3 996.2 573.2 995.5 574.2 994.6 574.6 995.0 575.8 994.5 576.2 995.1 577.0 994.3 578.2 995.4 578.8 995.7 579.4 995.3 580.7 995.2 581.2 994.4 582.1 995.1 583.1 996.0 583.9 994.2 584.3 995.6 585.4 994.4 585.9 995.4 587.0 994.8 587.9 995.7 588.7 995.3 589.3 995.5 589.8 995.1 590.7 996.0 591.8 994.8 592.4 994.6 593.3 996.1 593.9 995.4 594.6 994.7 595.8 994.2 596.6 995.7 597.4 996.0 597.8 995.8 598.9 996.0 599.3 995.1 600.7 995.9 601.1 994.6 602.0 995.3 602.6 994.3 603.7 995.4 604.4 994.9 605.0 994.5 606.2 995.6 606.7 995.4 607.7 995.0 608.4 995.1 609.3 995.9 610.2 995.7 611.1 996.1 611.4 995.8 612.5 996.2 613.2 995.2 614.1 994.6 614.6 996.0 615.4 995.8 616.4 995.1 617.1 994.6 618.2 996.1 619.0 994.8 619.6 995.9 620.4 996.0 621.0 995.4 621.9 996.2 622.8 995.8 623.7 996.4 624.1 995.8 625.0 996.2 625.9 995.7 626.8 996.7 627.4 995.7 628.5 996.6 629.1 996.7 629.9 994.9 630.6 995.3 631.9 996.7 632.6 996.3 632.9 996.5 633.9 996.3 634.9 995.4 635.4 996.3 636.5 996.3 637.4 996.2 637.9 996.1 638.5 995.4 639.4 994.7 640.6 995.6 641.3 996.4 642.0 995.3 642.6 995.7 643.8 996.1 644.2 996.3 645.0 995.0 645.9 995.0 647.0 995.2 647.4 994.8 648.3 996.5 649.0 995.0 649.7 995.0 650.8 995.5 651.6 996.1 652.6 994.8 653.3 995.9 653.9 995.8 655.0 996.2 655.5 994.8 656.5 994.8 656.9 994.4 657.9 994.7 658.6 996.2 659.4 996.1 660.6 995.9 660.9 994.5 662.2 995.5 662.5 994.8 663.4 995.9 664.3 995.0 665.1 995.4 666.1 995.2 666.8 996.5 667.4 995.2" stroke="#0000ff" stroke-width="2.7" fill="none" stroke-linejoin="round"/>
<path d="M172.6 911 L173.0 931" stroke="#0000ff" stroke-width="3.6" fill="none"/>
<text x="420.3" y="963.2" font-family='"Liberation Serif", serif' font-size="30">y<tspan font-size="19" dy="11.7">2</tspan></text>
<text x="485.2" y="1014.8" font-family='"Liberation Serif", serif' font-size="30">y<tspan font-size="19" dy="10.6">1</tspan></text>
<path d="M888.20 1276.00 C888.45 1267.00 889.23 1243.10 889.70 1222.00 C890.17 1200.90 890.42 1169.73 891.00 1149.40 C891.58 1129.07 892.83 1108.23 893.20 1100.00" stroke="#000" stroke-width="3.0" stroke-linecap="round" stroke-dasharray="0 4.0" fill="none"/>
<path d="M893.0 1100.3 893.3 1100.5 893.0 1099.3 893.0 1099.8 893.4 1098.0 893.6 1099.2 893.4 1098.0 893.2 1096.4 893.4 1096.0 893.3 1095.7 893.2 1095.5 893.5 1095.6 893.6 1094.6 893.6 1093.9 893.6 1092.6 894.0 1093.2 893.9 1092.0 893.7 1090.4 893.7 1089.4 894.0 1089.3 894.1 1088.6 894.2 1088.7 893.7 1086.8 894.3 1086.6 894.4 1085.8 893.9 1085.5 894.3 1084.2 894.0 1083.6 894.5 1083.8 894.1 1082.2 894.2 1081.3 894.6 1080.9 894.5 1080.9 894.3 1080.8 894.4 1080.0 894.4 1078.9 894.5 1077.9 895.0 1078.3 894.7 1077.8 894.7 1076.3 895.1 1076.1 894.8 1076.2 894.9 1074.3 895.2 1073.9 895.1 1072.9 895.0 1073.2 895.1 1072.7 895.3 1071.9 895.7 1071.4 895.5 1071.5 895.4 1069.7 895.8 1070.3 895.6 1068.6 895.9 1069.3 895.7 1068.7 896.1 1067.4 896.0 1065.8 895.8 1066.8 896.0 1065.8 896.1 1065.5 896.3 1064.0 896.2 1064.2 896.2 1062.7 896.5 1063.2 896.6 1061.6 896.9 1060.9 896.5 1060.4 896.8 1059.4 896.7 1059.4 897.0 1058.3 897.0 1059.1 897.4 1058.0 897.3 1057.3 897.1 1055.7 897.1 1056.6 897.5 1056.1 897.3 1054.9 897.6 1054.4 897.6 1054.3 897.5 1052.8 898.0 1052.9 898.0 1051.9 898.1 1051.6 898.0 1050.6 898.3 1050.3 898.2 1049.6 898.5 1048.6 898.4 1047.6 898.5 1047.4 898.3 1046.8 898.8 1046.6 898.7 1045.1 898.8 1044.8 898.7 1044.6 898.6 1043.8 898.6 1042.9 899.0 1041.5 899.1 1041.4 899.2 1041.5 899.0 1039.2 899.1 1039.7 899.1 1038.2 899.6 1038.4 899.4 1038.2 899.4 1037.2 899.4 1036.1 899.8 1036.4 899.9 1034.8 899.8 1034.1 899.6 1033.9 900.1 1034.0 900.1 1033.6 899.9 1031.7 900.0 1031.4 900.0 1031.2 900.3 1030.8 900.2 1030.6 900.7 1029.1 900.3 1027.7 900.9 1027.1 900.9 1027.4 900.8 1027.3 900.7 1025.6 901.0 1024.9 901.3 1024.8 901.1 1024.0 901.5 1024.2 901.6 1024.1 901.8 1024.0 901.9 1022.0 901.9 1021.3 901.7 1021.3 902.2 1020.3 902.1 1020.0 902.4 1019.7 902.5 1019.6 902.5 1019.1 902.9 1017.2 903.0 1017.7 902.7 1016.6 903.1 1016.8 903.1 1015.5 903.5 1015.3 903.6 1014.1 903.6 1013.0 903.7 1013.5 903.8 1012.7 903.7 1012.4 904.3 1011.9 904.1 1011.0 904.2 1010.6 904.6 1009.1 904.3 1008.7 904.7 1008.6 904.8 1006.6 905.1 1006.0 905.3 1005.6 905.2 1006.1 905.2 1004.4 905.6 1004.9 905.9 1004.2 906.1 1003.3 906.3 1002.0 906.0 1002.2 906.3 1002.0 906.7 1001.0 907.0 1000.4 906.9 999.4 907.5 999.6 907.3 999.0 907.9 997.9 907.9 996.7 908.1 996.7 908.4 995.3 908.8 995.5 908.7 995.5 909.0 994.3 909.3 992.9 909.5 992.9 909.9 993.2 909.8 991.7 910.0 991.0 910.6 991.3 910.7 989.6 910.8 989.5 911.5 988.0 911.7 987.2 911.6 987.0 912.2 986.6 912.3 986.6 912.4 986.3 912.7 985.4 913.1 984.3 913.6 984.2 913.9 983.5 914.3 982.5 914.5 982.9 915.1 982.2 915.6 981.8 916.0 980.6 916.3 981.2 916.8 979.9 916.8 980.5 917.2 980.2 918.0 978.2 918.0 978.8 918.5 977.3 919.2 977.5 919.7 976.5 919.9 977.1 920.2 975.8 921.1 976.6 921.7 974.8 921.9 975.6 922.3 975.1 922.6 973.6 923.0 973.2 923.7 973.7 924.2 972.6 924.5 972.4 925.3 973.4 925.9 971.4 925.9 972.6 926.6 971.9 927.1 970.9 927.7 970.5 928.3 969.4 928.9 970.5 929.2 969.5 930.0 969.1 930.3 968.3 931.0 967.7 931.8 968.8 932.3 968.7 932.9 967.6 933.4 967.5 934.1 967.9 934.3 967.9 935.1 967.4 935.7 966.6 936.3 967.3 936.7 967.0 937.4 966.2 937.9 965.5 938.3 966.1 938.7 965.8 939.6 966.2 940.0 966.7 940.9 965.5 941.5 965.9 942.0 965.5 942.9 965.9 943.4 966.0 944.1 964.6 944.6 965.8 945.0 965.1 945.6 964.6 946.4 964.3 947.0 965.7 947.9 964.8 948.8 964.8 949.3 964.8 949.8 963.7 950.2 964.8 950.5 965.0 951.1 964.0 951.7 963.9 952.6 963.0 953.4 963.6 953.7 963.8 954.3 963.1 955.0 963.5 955.5 963.7 956.1 962.3 956.7 962.3 957.3 963.5 958.0 963.7 958.9 962.1 959.6 963.7 959.8 963.5 960.6 962.7 961.5 962.2 961.9 963.4 962.6 962.5 963.3 963.1 963.7 961.8 964.3 962.3 964.7 961.5 965.4 961.6 965.9 962.5 966.5 961.7 967.1 961.9 967.7 962.0 968.4 962.7 969.0 961.3 969.4 962.3 970.4 961.7 970.8 960.9 971.7 961.3 972.3 961.3 973.0 960.4 973.3 961.7 974.3 961.4 974.4 959.8 975.1 960.4 975.8 959.7 976.4 959.6 976.7 960.6 977.5 960.5 978.0 960.2 978.5 959.9 979.4 960.8 979.6 959.5 980.7 960.4 981.3 959.7 981.8 959.8 982.5 960.0 983.0 961.2 983.4 960.5 984.2 961.2 984.6 960.3 985.0 961.3 985.5 959.9 986.4 960.8 987.0 960.5 987.7 960.2 987.9 961.3 988.5 960.8 989.4 961.6 989.8 960.7 990.4 961.8 991.0 960.8 991.8 961.7 992.5 962.4 993.2 961.6 993.7 961.4 994.1 961.6 995.1 962.5 995.4 961.6 996.1 961.7 996.8 961.8 997.3 962.2 998.2 962.2 998.8 962.3 999.1 962.7 1000.1 961.9 1000.3 962.3 1001.3 962.5 1002.2 962.7 1002.8 961.8 1003.3 963.2 1003.8 962.0 1004.9 963.6 1005.2 963.2 1006.0 963.5 1007.0 962.7 1007.5 963.7 1008.3 963.8 1009.0 963.0 1010.0 963.7 1010.4 963.5 1011.2 963.8 1012.0 963.3 1012.5 963.8 1013.2 964.1 1013.7 964.2 1014.4 963.8 1014.7 963.9 1015.3 963.4 1015.6 962.9 1016.2 964.4 1016.4 962.9 1016.7 963.3 1017.1 964.3 1017.6 962.7 1018.2 963.3 1019.2 962.4 1019.4 962.9 1020.2 963.8 1020.5 962.2 1021.2 962.4 1021.8 963.4 1022.7 962.4 1023.0 962.6 1023.6 963.5 1024.3 963.1 1025.2 963.0 1025.5 963.9 1026.5 962.8 1026.8 964.1 1027.4 962.6 1027.7 964.1 1028.8 962.9 1029.2 963.2 1029.7 964.3 1030.5 962.7 1030.7 963.2 1031.5 963.9 1032.3 963.5 1032.6 962.4 1033.3 962.6 1034.3 963.2 1034.7 964.3 1035.0 963.2 1035.6 963.7 1036.0 963.8 1037.2 963.8 1037.3 962.4 1038.4 961.9 1038.8 962.8 1039.7 963.1 1040.3 962.3 1040.8 962.6 1041.5 961.8 1042.0 962.0 1042.4 962.8 1042.7 963.6 1043.5 962.3 1043.9 962.3 1044.8 963.4 1045.3 963.4 1045.7 962.6 1046.6 964.2 1047.5 963.4 1047.4 962.7 1048.6 962.4 1049.1 963.0 1049.2 964.6 1050.5 962.4 1050.9 962.7 1051.3 963.5 1051.8 962.9 1052.5 963.9 1053.0 962.6 1054.0 963.0 1054.8 963.7 1055.2 963.0 1055.9 962.3 1055.9 962.3 1057.0 964.2 1057.1 963.3 1058.3 963.8 1058.2 962.7 1058.9 962.4 1059.7 962.2 1060.8 963.3 1061.0 963.9 1061.8 964.5 1062.1 963.0 1062.7 962.0 1063.3 964.1 1064.4 964.4 1064.7 963.8 1064.8 963.0 1065.7 964.0 1066.0 963.2 1067.0 964.5 1067.9 964.0 1067.9 964.5 1069.2 963.9 1069.3 963.7 1069.7 964.4 1071.0 963.9 1071.4 964.9 1071.5 965.2 1072.5 963.0 1072.6 963.2 1073.7 964.5 1074.0 965.2 1074.7 963.8 1075.1 965.4 1075.7 965.2 1076.6 964.1 1077.3 963.2 1078.2 965.3 1078.7 964.1 1078.7 964.8 1079.4 964.9 1080.0 963.9 1081.1 962.7 1081.4 962.3 1081.6 962.5 1083.0 964.8 1083.3 962.8 1084.0 964.1 1084.3 963.6 1085.3 961.8 1085.3 963.1 1085.9 962.8 1086.9 962.2 1087.4 962.4 1088.1 962.6 1088.7 961.7 1089.4 962.0 1090.2 963.4 1090.4 962.9 1091.1 963.7 1091.8 963.9 1092.2 964.6 1093.1 964.2 1093.3 963.0 1094.1 964.4 1094.6 963.3 1095.1 964.4 1095.6 961.9 1096.6 964.4 1097.2 963.5 1097.8 962.6 1098.3 961.9 1098.5 963.0 1099.4 962.9 1099.6 963.7 1100.6 962.3 1101.0 962.8 1101.6 961.8 1102.8 964.4 1103.1 964.1 1103.5 963.9 1103.9 963.7 1104.9 964.1 1105.0 963.8 1105.7 963.0 1107.0 961.4 1107.0 962.3 1107.6 961.5 1108.8 963.8 1108.9 962.4 1109.7 961.5 1109.8 964.1 1110.6 962.9 1111.8 964.4 1112.0 962.1 1112.4 964.3 1113.6 962.2 1114.1 962.7 1114.4 962.2 1115.3 964.7 1115.3 963.7 1115.9 964.5 1116.4 962.2 1117.6 962.8 1118.4 964.5 1118.8 962.3 1119.4 964.7 1119.8 962.2 1120.2 962.8 1121.2 962.5 1121.3 962.6 1122.3 964.2 1122.7 963.8 1123.7 963.6 1123.8 962.7 1125.0 963.7 1125.0 963.6 1125.4 964.6 1126.3 963.2 1127.0 961.7 1127.7 962.3 1128.0 963.9 1128.4 962.3 1129.6 962.1 1129.8 963.0 1130.3 964.0 1131.6 961.4 1131.8 963.6 1132.3 964.1 1133.0 961.8 1133.7 963.2 1134.1 963.3 1135.1 962.9 1135.4 963.9 1136.2 962.9 1137.0 961.9 1137.5 961.8 1137.9 962.0 1138.3 963.7 1139.3 963.7 1139.4 962.8 1139.9 963.0 1140.8 961.4 1141.5 963.4 1142.1 963.8 1142.3 961.6 1142.8 962.6 1143.7 962.4 1144.2 963.4 1144.6 963.7 1145.7 962.6 1146.5 961.6 1146.5 961.8 1147.0 961.7 1148.1 962.3 1148.4 962.5 1148.8 963.1 1149.5 961.4 1150.1 962.7 1151.3 962.9 1151.2 961.8 1152.1 961.2 1153.2 960.7 1153.4 962.8 1154.4 961.0 1154.6 962.8 1154.8 961.3 1156.2 961.1 1156.3 961.6 1156.9 961.0 1157.2 963.8 1158.4 963.0 1158.6 961.6 1159.4 961.6 1160.0 963.7 1160.5 962.0 1161.6 962.9 1161.4 962.3 1162.5 961.3 1162.9 963.2 1163.9 962.9 1164.5 962.5 1164.7 963.7 1165.3 963.5 1165.7 962.2 1166.3 962.8 1166.9 961.7 1167.5 962.5 1168.2 962.4 1169.4 963.1 1169.9 961.7 1170.1 961.3 1171.0 962.1 1171.2 961.1 1171.7 961.8 1172.5 963.8 1173.4 961.9 1173.7 961.5 1174.8 962.2 1175.2 963.3 1176.0 961.2 1176.0 962.3 1176.4 963.8 1177.2 963.5 1178.0 961.4 1178.5 962.0 1178.8 961.8 1179.9 961.5 1180.2 962.7 1181.0 961.9 1181.8 962.3 1182.4 963.5 1182.5 962.2 1183.2 963.7 1183.9 962.7 1184.9 962.2 1185.0 962.6 1185.5 961.7 1186.0 963.4 1187.1 963.9 1188.0 962.3 1188.4 964.2 1188.5 963.4 1189.5 964.2 1190.3 962.0 1190.7 961.5 1191.1 962.4 1191.4 962.3 1192.2 962.6 1192.8 961.5 1193.5 962.5 1193.9 963.0 1194.6 961.3 1195.3 962.2 1195.7 962.7 1196.8 962.6 1197.4 961.0 1197.7 962.1 1198.0 962.2 1198.6 962.5 1199.7 962.4 1200.0 961.8 1200.4 962.1 1201.8 962.8 1201.8 963.1 1202.3 962.6 1203.3 964.1 1203.7 963.0 1204.8 963.6 1205.1 963.1 1205.5 962.5 1206.0 963.8 1207.1 962.5 1207.8 961.4 1207.7 962.9 1208.4 962.4 1209.6 961.8 1209.5 962.0 1210.6 962.0 1210.6 962.9 1211.5 962.0 1212.2 963.2 1212.8 963.1 1213.5 963.7 1214.4 962.2 1214.5 963.9 1215.0 963.4 1216.0 963.3 1216.8 963.7 1216.7 963.2 1217.6 963.0 1218.1 962.2 1219.0 963.0 1219.2 962.2 1219.8 962.0 1220.6 961.9 1220.8 961.8 1221.4 963.8 1222.1 963.1 1223.2 963.2 1223.3 964.5 1224.5 962.1 1224.6 963.5 1225.7 963.2 1226.2 962.8 1226.8 963.1 1227.1 964.4 1228.1 964.7 1228.5 963.5 1229.2 964.1 1229.9 964.6 1229.9 963.4 1231.0 962.9 1231.1 962.3 1232.1 965.0 1233.0 962.6 1233.4 963.4 1233.9 963.3 1234.8 965.1 1234.6 964.2 1235.3 962.2 1236.0 964.2 1237.2 962.4 1237.2 962.1 1238.0 963.4 1238.5 962.9 1239.5 964.5 1239.6 963.1 1240.5 964.2 1241.4 963.1 1241.8 963.6 1242.5 962.4 1242.5 962.3 1243.8 962.8 1244.0 962.4 1244.4 962.1 1245.3 962.5 1245.9 962.9 1246.2 963.5 1246.9 962.9 1247.2 962.3 1248.6 963.0 1248.4 962.7 1249.4 965.1 1249.7 964.7 1250.6 963.3 1251.5 963.2 1251.4 963.7 1252.5 963.9 1252.8 964.8 1253.9 964.9 1254.1 964.4 1255.0 962.3 1255.0 962.3 1255.7 962.0 1256.5 963.9 1257.0 963.2 1257.4 962.2 1258.8 961.6 1259.0 964.0 1259.9 963.7 1260.1 963.9 1261.1 963.8 1261.8 961.8 1262.4 962.7 1262.8 962.3 1263.6 961.6 1263.9 962.2 1264.3 962.7 1265.1 964.1 1265.5 963.6 1266.1 962.5 1267.2 962.7 1267.0 962.8 1268.2 962.5 1268.8 963.5 1269.4 962.5 1269.4 962.4 1270.3 963.3 1270.6 963.5 1271.5 963.0 1272.2 964.9 1272.5 964.7 1273.2 964.3 1273.6 965.0 1274.5 965.0 1274.9 963.3 1276.0 962.6 1276.2 964.1 1277.4 963.0 1277.3 963.1 1278.6 962.4 1278.9 963.1 1279.5 962.6 1280.1 964.6 1280.9 963.8 1281.2 963.6 1281.5 964.4 1282.6 963.2 1283.1 963.1 1283.5 962.6 1284.3 963.6 1284.8 962.0 1285.5 963.3 1286.1 963.7 1287.0 962.4 1287.2 965.0 1288.0 963.0 1288.6 965.0 1288.9 964.7 1289.3 965.1 1290.2 962.8 1291.1 964.1 1291.8 964.6 1292.3 963.7 1293.0 962.3 1293.5 964.3 1293.6 964.5 1294.4 963.7 1295.3 962.6 1295.4 963.9 1295.8 963.6 1297.1 963.4 1297.2 964.3 1298.3 964.1 1298.6 964.4 1299.5 962.1 1299.7 961.9 1300.0 962.6 1301.3 964.0 1301.3 962.0 1302.1 963.9 1302.9 964.0 1303.0 964.2 1303.7 963.1 1304.9 963.4 1304.9 963.2 1305.7 961.2 1306.3 962.1 1307.1 962.0 1307.7 963.2 1307.9 961.5 1309.0 962.5 1309.1 961.5 1310.4 963.0 1310.5 961.7 1311.6 963.2 1312.0 962.3 1312.2 962.4 1312.7 963.1 1313.5 963.7 1314.1 962.6 1314.8 964.0 1315.3 963.3 1315.8 962.9 1316.4 963.8 1317.0 963.7 1318.0 962.5 1318.8 962.3 1319.2 962.9 1319.6 961.3 1320.1 961.9 1320.7 963.9 1321.2 963.1 1322.2 961.7 1322.5 961.3 1323.6 961.6 1323.7 961.9 1324.7 963.4 1325.1 962.5 1325.2 963.5 1325.8 961.9 1326.7 963.0 1327.6 961.9 1328.4 963.8 1328.2 962.8 1329.2 962.1 1329.8 962.0 1330.6 962.9 1331.4 964.0 1332.0 962.3 1332.5 963.2 1333.0 964.2 1333.0 962.7 1333.9 963.3 1334.3 964.4 1334.9 962.5 1335.5 962.6 1336.6 961.7 1336.7 963.4 1337.7 963.7 1338.0 963.9 1339.0 963.8 1339.1 962.9 1339.6 964.0 1341.0 964.1 1340.8 962.5 1341.8 963.0 1342.1 963.7 1342.8 962.8 1343.3 963.0 1343.9 961.5 1344.8 962.1 1345.6 961.9 1345.9 961.3 1346.3 962.5 1347.3 962.4 1348.1 961.4 1348.7 961.5 1349.4 962.6 1349.5 962.9 1350.5 963.9 1350.7 961.1 1351.1 963.5 1352.2 963.2 1352.3 962.6 1352.8 961.4 1353.6 964.0 1354.5 963.6 1354.6 962.4 1355.2 961.9 1355.9 963.9 1356.6 962.6 1357.5 963.8 1358.4 962.8 1358.6 963.8 1359.1 962.0 1360.0 961.9 1360.3 962.4 1361.0 962.1 1361.5 962.4 1361.8 963.5 1362.4 962.5 1363.4 962.1 1363.8 961.2 1364.5 961.8 1365.2 961.5 1366.0 962.2 1366.0 961.9 1367.4 960.7 1367.7 963.5 1368.1 962.4 1368.7 961.5 1369.5 962.4 1369.8 962.1 1370.6 962.9 1370.8 960.9 1371.6 961.5 1372.7 962.0 1373.3 961.9 1373.4 962.8 1373.8 963.8 1375.1 961.9 1375.2 963.4 1376.3 962.9 1376.2 963.3 1376.8 963.0 1377.8 963.9 1378.5 961.3 1379.4 963.5 1379.7 961.3 1380.4 962.6 1381.0 964.3 1381.8 961.6 1382.3 962.7 1382.8 962.6 1382.8 962.7" stroke="#000" stroke-width="3.3" fill="none" stroke-linejoin="round"/>
<path d="M887.90 1277.00 C887.95 1267.83 887.93 1243.27 888.20 1222.00 C888.47 1200.73 888.97 1168.07 889.50 1149.40 C890.03 1130.73 890.87 1121.57 891.40 1110.00 C891.93 1098.43 892.10 1091.05 892.70 1080.00 C893.30 1068.95 894.08 1055.87 895.00 1043.70 C895.92 1031.53 897.13 1017.27 898.20 1007.00 C899.27 996.73 900.43 988.60 901.40 982.10 C902.37 975.60 903.57 970.35 904.00 968.00" stroke="#ff0000" stroke-width="2.4" fill="none"/>
<path d="M901.3 982.9 901.6 982.2 901.6 981.9 901.4 981.1 901.5 981.4 901.5 980.7 901.6 979.9 901.9 978.8 902.3 977.5 902.0 978.5 902.3 976.3 902.7 977.1 902.3 975.5 902.5 974.6 902.9 973.6 903.0 972.7 902.9 973.3 903.2 971.9 903.4 971.3 903.4 969.8 903.7 970.8 904.0 969.6 903.8 968.5 904.1 968.5 903.9 967.0 904.2 966.9 904.6 966.3 904.3 966.4 904.7 965.3 904.7 964.6 904.9 964.7 904.9 963.8 905.1 963.6 905.2 962.3 905.5 962.5 905.5 961.6 905.7 960.7 906.1 961.3 906.3 960.6 906.3 959.9 906.7 957.8 907.2 958.3 907.0 956.2 907.6 955.9 907.4 954.9 907.5 955.5 908.1 955.6 908.0 953.4 908.1 954.2 908.5 953.4 908.3 952.6 908.6 952.2 908.7 952.2 909.2 950.2 909.0 950.9 909.2 950.4 909.5 949.3 909.8 947.8 909.7 947.2 910.1 947.3 910.0 947.0 910.3 945.2 910.5 945.9 910.8 944.6 911.2 944.6 911.3 942.9 911.4 943.2 911.7 942.0 911.7 940.9 912.1 940.7 911.9 940.3 912.6 939.9 912.8 939.5 912.8 938.7 913.0 936.8 913.2 936.7 913.7 936.8 913.7 936.1 913.7 935.5 914.3 934.7 914.3 934.3 914.5 934.3 914.7 932.8 915.0 933.5 915.6 932.8 916.1 931.7 916.1 931.3 916.7 930.1 917.3 929.9 917.5 929.3 918.3 928.2 918.4 928.2 918.8 928.0 919.3 928.4 919.9 927.6 920.2 926.8 920.9 927.1 921.2 926.0 922.0 926.3 922.2 925.4 923.0 924.9 923.4 925.0 924.1 924.6 924.5 924.0 925.0 923.7 925.4 923.5 925.8 922.9 926.2 923.5 926.8 922.5 927.6 922.8 928.2 923.3 928.5 923.7 929.3 922.8 929.5 923.4 930.4 923.4 931.0 923.1 931.5 923.0 931.9 923.4 932.5 923.6 933.3 923.4 933.6 923.8 934.6 924.6 934.7 925.4 935.7 925.7 936.0 925.9 936.6 925.1 937.5 926.7 937.7 927.1 938.1 926.5 938.7 926.6 939.3 927.9 940.0 927.3 940.4 927.8 941.3 928.7 941.4 929.1 942.2 929.0 942.6 929.8 943.3 929.8 943.7 930.1 944.1 930.3 944.5 930.9 945.1 930.9 945.7 931.6 946.1 932.4 946.6 932.7 946.8 932.6 947.4 933.6 948.0 932.9 948.0 933.3 948.5 933.6 949.0 934.3 949.5 935.5 950.3 936.4 951.0 936.4 951.5 935.6 951.7 937.6 952.4 936.7 953.0 937.4 953.3 937.5 953.6 937.5 954.2 939.4 954.9 939.4 955.3 939.0 955.5 940.4 956.1 940.4 956.3 940.0 957.0 941.3 957.7 941.7 957.9 941.5 958.7 943.0 959.0 942.0 959.6 943.0 959.9 942.9 960.5 944.0 960.8 944.3 961.8 945.1 961.9 944.9 962.3 945.9 963.1 945.3 963.6 946.5 964.1 946.5 964.5 946.9 965.4 947.2 965.6 947.8 965.9 948.1 966.5 948.3 967.0 948.7 967.8 948.9 968.0 949.9 968.6 950.0 969.3 949.5 969.9 949.9 970.3 951.4 971.2 951.5 971.3 951.3 972.0 952.2 972.5 951.3 973.3 952.3 973.8 952.2 974.6 952.4 975.1 952.4 975.4 952.5 976.1 953.4 976.4 953.1 977.2 953.2 977.8 953.6 978.4 953.3 978.8 952.8 979.7 954.4 980.0 954.8 980.9 953.5 981.4 954.2 981.8 954.1 982.5 953.9 982.9 954.3 983.7 954.6 984.1 956.0 984.8 955.6 985.4 956.6 985.7 955.5 986.7 957.0 987.3 956.5 987.5 956.1 988.4 957.4 988.7 957.7 989.1 957.5 990.1 956.9 990.5 957.3 991.2 958.7 991.7 958.3 991.9 958.6 992.7 958.7 993.1 959.8 994.0 959.4 994.7 960.2 995.2 959.8 995.9 959.7 996.5 959.2 997.1 960.3 997.6 961.3 998.0 960.4 998.9 961.2 999.3 961.4 1000.0 961.7 1000.6 960.9 1001.0 960.5 1001.5 960.6 1002.5 960.9 1002.9 961.0 1003.7 961.8 1003.8 962.4 1004.9 962.7 1005.2 961.8 1006.1 961.6 1006.7 962.5 1007.5 962.8 1008.2 961.9 1008.9 962.2 1009.3 961.5 1010.2 962.2 1010.7 962.5 1011.6 962.3 1012.4 962.8 1013.0 963.7 1014.0 962.5 1014.6 962.6 1015.3 962.2 1015.7 963.9 1016.5 963.5 1016.9 962.5 1018.0 962.5 1018.1 963.1 1019.1 963.6 1019.7 963.8 1020.0 964.1 1020.4 962.6 1021.3 964.1 1021.6 963.4 1021.8 962.9 1022.1 962.7 1022.7 964.2 1023.2 963.5 1023.7 963.0 1024.4 963.4 1025.1 963.6 1025.5 963.1 1025.8 962.9 1026.6 962.2 1027.0 962.7 1027.6 963.1 1028.3 963.8 1029.1 962.8 1029.6 962.6 1030.0 963.7 1031.1 963.1 1031.5 962.0 1032.0 962.1 1032.5 963.0 1033.0 962.2 1034.0 962.8 1034.7 962.1 1034.7 963.9 1035.7 963.3 1036.2 962.1 1037.1 963.0 1037.7 962.2 1037.8 963.2 1038.4 963.9 1039.0 962.1 1039.6 962.6 1040.7 964.1 1041.1 963.0 1041.3 964.1 1041.9 962.5 1042.7 964.2 1043.2 962.2 1044.3 962.0 1044.8 962.4 1045.0 962.5 1045.8 964.5 1046.7 963.4 1046.7 962.4 1047.4 964.1 1048.6 961.9 1048.7 964.5 1049.1 962.0 1049.8 964.3 1050.4 963.8 1050.9 963.6 1051.5 963.4 1052.6 964.2 1052.9 964.5 1053.5 964.4 1054.6 964.5 1054.4 962.3 1055.6 964.1 1055.8 963.8 1056.6 961.4 1056.8 961.4 1057.5 964.3 1058.6 964.1 1059.4 962.6 1059.8 963.4 1060.4 961.6 1061.2 961.8 1061.3 963.6 1062.2 964.1 1062.4 962.3 1063.4 961.5 1064.2 962.4 1064.3 962.4 1065.2 962.0 1065.2 961.6 1065.8 963.5 1067.3 961.4 1067.4 962.6 1067.8 962.6 1068.2 962.8 1069.0 961.6 1069.4 964.5 1070.6 964.7 1071.3 963.8 1071.3 961.6 1072.7 963.5 1073.0 961.7 1073.7 962.9 1073.6 961.8 1075.1 963.1 1074.8 961.2 1076.1 962.1 1076.4 961.3 1076.7 962.5 1077.5 961.4 1077.8 962.2 1078.4 960.9 1079.4 960.8 1080.2 963.2 1080.8 963.8 1080.9 962.0 1081.7 960.8 1082.8 960.7 1083.5 962.9 1084.1 960.8 1084.6 963.8 1085.1 962.5 1085.6 962.2 1086.4 962.6 1086.6 962.0 1087.3 962.6 1088.2 963.3 1088.2 963.1 1088.7 962.3 1089.6 963.2 1089.8 961.2 1090.5 962.8 1091.1 962.6 1092.4 962.2 1092.3 962.8 1093.1 962.2 1093.5 963.0 1094.2 964.1 1095.0 963.0 1096.0 964.0 1095.7 963.8 1096.4 963.9 1097.7 961.5 1098.2 962.5 1098.6 962.7 1099.2 962.8 1100.0 960.5 1100.5 962.9 1101.4 962.3 1101.6 960.9 1101.9 963.5 1102.4 963.5 1103.0 961.7 1104.1 960.5 1104.5 963.1 1105.1 961.0 1105.4 963.6 1106.0 962.7 1107.1 961.4 1107.7 962.8 1107.9 961.3 1109.2 961.2 1109.4 962.1 1110.3 963.5 1110.9 962.8 1111.2 961.0 1111.9 962.2 1112.7 962.0 1112.6 962.1 1113.9 962.5 1114.4 961.1 1114.5 961.8 1115.4 961.4 1116.5 962.1 1116.1 961.8 1117.2 963.1 1118.1 961.4 1118.9 964.0 1119.0 963.3 1119.4 961.6 1119.7 964.4 1121.2 962.6 1121.5 962.7 1122.2 961.4 1122.9 961.7 1123.3 963.2 1124.2 963.1 1124.1 963.8 1124.9 962.9 1125.9 964.3 1125.8 962.5 1126.6 963.8 1127.3 964.0 1128.3 962.4 1128.9 963.3 1128.8 962.0 1129.4 963.8 1130.3 962.0 1131.2 964.3 1131.2 963.3 1131.9 963.7 1133.1 963.6 1133.5 961.5 1134.4 961.5 1134.7 964.4 1135.0 962.8 1136.0 963.4 1136.2 962.6 1137.4 963.7 1137.3 963.6 1138.6 963.4 1139.2 962.3 1139.2 964.3 1139.8 961.8 1140.2 964.4 1141.5 962.1 1142.0 962.1 1142.5 961.5 1143.1 964.0 1143.6 963.5 1143.8 963.0 1145.1 962.6 1145.6 963.4 1146.3 963.8 1146.4 964.1 1147.5 962.7 1148.0 962.6 1148.5 962.3 1149.0 962.2 1150.0 963.2 1150.3 962.9 1150.8 961.6 1151.5 962.5 1151.8 962.7 1152.2 963.2 1153.5 962.2 1153.5 964.2 1154.5 962.0 1154.6 962.9 1155.3 964.0 1156.4 961.8 1156.7 961.2 1157.1 962.8 1158.4 962.4 1159.1 961.8 1158.8 963.8 1159.7 961.9 1160.3 963.1 1160.7 961.4 1161.7 963.3 1162.3 961.6 1163.2 962.6 1163.4 964.1 1163.6 962.8 1164.5 963.3 1164.9 962.0 1165.5 963.1 1166.2 964.4 1167.4 963.7 1167.5 964.0 1168.3 963.8 1169.3 961.6 1169.7 964.2 1169.9 962.3 1170.1 964.2 1170.9 961.1 1171.4 962.8 1172.6 964.1 1173.2 961.4 1174.0 964.0 1174.5 964.0 1175.1 963.3 1175.7 961.0 1176.5 960.9 1176.5 962.8 1177.2 962.1 1177.8 962.0 1178.6 961.0 1178.8 963.1 1179.6 961.0 1180.2 964.1 1180.8 963.5 1181.3 964.3 1182.0 963.8 1182.7 963.8 1183.1 964.3 1184.3 964.2 1184.8 962.4 1184.8 964.3 1185.9 963.3 1186.3 961.4 1186.9 961.6 1187.4 962.2 1188.1 962.0 1188.4 964.2 1189.3 962.0 1190.3 961.7 1190.3 964.1 1191.1 963.9 1192.0 962.0 1192.2 962.6 1192.9 963.3 1193.5 964.4 1194.0 963.2 1194.7 962.3 1195.6 963.1 1195.8 964.6 1196.7 965.1 1197.2 963.5 1197.5 964.3 1198.3 961.7 1198.9 963.9 1199.3 964.5 1200.2 964.7 1200.4 963.9 1201.3 962.8 1201.6 961.9 1202.7 962.6 1202.8 962.5 1203.7 963.4 1204.6 962.0 1204.6 964.5 1205.7 961.9 1205.9 965.1 1207.1 962.9 1207.4 962.9 1207.4 964.9 1208.0 965.3 1209.0 964.8 1209.6 965.0 1210.5 962.6 1210.3 962.6 1211.5 962.5 1211.6 963.4 1212.1 963.2 1213.3 962.9 1214.1 963.1 1214.3 963.6 1215.4 962.4 1215.9 962.6 1216.7 964.1 1217.1 964.0 1217.6 964.6 1217.6 962.9 1219.0 962.9 1218.9 962.3 1220.0 964.8 1219.9 965.0 1220.6 963.8 1221.6 962.9 1222.0 963.7 1223.1 962.8 1223.1 965.2 1223.8 962.2 1225.0 965.0 1224.9 963.6 1226.2 962.9 1226.2 961.8 1226.6 963.8 1227.6 964.6 1228.1 962.6 1228.7 962.2 1229.4 964.0 1229.7 963.7 1231.1 964.0 1231.0 963.9 1231.4 962.1 1232.7 964.1 1233.1 963.6 1233.4 964.6 1234.2 964.6 1235.0 962.9 1235.7 963.0 1236.1 964.7 1237.1 963.9 1236.9 962.4 1238.1 962.9 1238.0 963.8 1238.9 964.4 1239.3 963.6 1240.7 962.4 1240.7 963.2 1241.0 962.3 1241.8 963.6 1242.2 963.9 1243.1 962.7 1244.2 964.2 1244.3 962.5 1245.0 963.8 1245.9 963.8 1245.7 962.1 1247.3 963.4 1247.4 961.9 1248.3 964.2 1248.4 962.3 1248.8 962.4 1249.8 962.9 1249.9 961.6 1250.7 964.1 1252.1 964.2 1252.2 962.5 1253.2 963.8 1253.5 963.6 1254.4 963.1 1254.4 963.8 1255.6 962.1 1255.7 963.9 1256.7 961.5 1257.3 962.2 1257.2 961.6 1258.2 963.0 1258.5 963.9 1259.1 964.7 1260.5 962.7 1260.1 961.8 1261.2 962.8 1262.1 963.0 1262.2 962.2 1263.5 964.3 1263.8 962.5 1264.1 964.3 1264.9 962.7 1265.2 964.5 1265.5 963.9 1266.8 963.5 1267.3 964.9 1267.6 964.3 1268.6 964.2 1268.6 964.0 1269.5 962.1 1270.6 962.6 1270.8 962.7 1271.0 962.6 1272.1 963.8 1272.9 962.1 1273.0 964.4 1273.8 964.0 1274.4 962.9 1274.5 964.4 1276.0 963.9 1275.9 963.6 1277.0 962.5 1277.3 964.5 1277.8 963.6 1278.1 961.6 1278.7 962.6 1280.2 963.5 1280.4 962.1 1281.1 962.1 1281.2 962.8 1282.0 964.3 1282.9 963.9 1283.2 963.1 1283.6 962.8 1285.1 964.1 1285.0 964.0 1286.2 964.6 1286.4 962.4 1286.5 962.1 1287.9 964.6 1288.4 964.4 1288.4 963.9 1288.9 962.0 1290.1 962.0 1290.5 963.1 1291.6 963.1 1291.5 964.2 1292.0 965.2 1293.4 965.2 1293.7 962.4 1293.9 964.2 1294.7 964.1 1295.1 963.6 1296.4 962.6 1296.9 962.1 1297.4 961.7 1297.5 961.7 1298.1 963.2 1299.3 964.2 1300.0 962.2 1300.6 962.8 1301.0 963.8 1301.2 962.2 1301.9 962.4 1302.8 964.2 1303.4 961.4 1304.1 963.9 1304.9 961.9 1305.4 962.6 1305.7 961.9 1305.9 962.7 1306.9 962.1 1307.5 962.7 1307.7 963.5 1308.4 961.4 1308.9 962.7 1309.9 961.5 1310.8 961.6 1311.5 961.4 1311.4 962.4 1312.4 961.6 1312.5 964.1 1313.8 961.5 1313.6 962.4 1314.5 963.5 1315.7 963.4 1315.6 961.9 1316.0 961.4 1317.4 964.0 1317.5 961.8 1318.6 961.8 1318.7 964.0 1318.9 962.1 1319.7 962.4 1321.0 964.1 1321.5 963.7 1321.7 963.2 1322.6 963.8 1322.9 963.5 1323.3 962.6 1324.7 963.1 1325.1 961.2 1325.3 962.4 1326.3 961.3 1326.6 963.0 1327.4 961.4 1327.4 961.7 1328.1 962.4 1329.0 960.7 1330.0 963.7 1329.9 961.5 1331.3 960.7 1331.1 961.9 1332.4 960.8 1332.6 963.2 1333.3 962.2 1334.0 963.1 1334.4 961.7 1335.1 963.5 1335.2 963.0 1336.1 961.4 1336.6 961.1 1337.7 962.8 1337.9 963.8 1338.9 962.2 1338.7 962.9 1339.5 962.9 1340.0 963.6 1341.4 961.5 1341.9 961.2 1341.8 962.7 1342.5 962.2 1343.3 963.4 1344.3 963.8 1344.3 961.6 1345.5 962.1 1345.4 962.4 1346.1 962.9 1346.9 961.2 1347.9 963.7 1347.8 961.4 1348.8 961.2 1349.9 962.1 1349.6 961.3 1350.3 961.5 1351.3 963.7 1351.7 962.6 1352.9 962.4 1352.9 963.7 1353.8 962.2 1354.5 961.6 1354.4 961.6 1355.2 963.8 1355.7 961.2 1356.2 963.7 1357.2 964.2 1357.6 961.5 1358.1 963.6 1359.0 964.0 1360.1 962.8 1359.8 964.1 1361.2 963.2 1361.4 963.9 1361.9 961.3 1363.1 962.9 1363.0 964.3 1364.2 962.8 1364.6 964.7 1365.0 963.0 1366.0 961.7 1366.4 961.9 1366.6 963.9 1367.0 964.3 1368.2 964.3 1369.0 963.2 1369.1 961.4 1370.2 963.7 1370.2 962.0 1371.5 962.1 1371.3 961.8 1372.4 963.7 1372.6 963.2 1373.5 963.2 1373.7 963.5 1374.2 961.2 1375.3 963.9 1376.0 963.8 1376.8 963.1 1377.4 964.2 1377.9 961.4 1378.0 962.4 1378.8 962.5 1379.8 963.1 1380.4 964.3 1380.1 961.9 1381.7 961.3 1381.7 961.6 1382.6 962.6 1383.2 964.3" stroke="#ff0000" stroke-width="4.0" fill="none" stroke-linejoin="round"/>
<path d="M888.20 1121.00 C888.43 1118.75 889.22 1117.33 889.60 1107.50 C889.98 1097.67 890.20 1074.15 890.50 1062.00 C890.80 1049.85 890.87 1043.77 891.40 1034.60 C891.93 1025.43 893.17 1016.10 893.70 1007.00 C894.23 997.90 893.97 988.17 894.60 980.00 C895.23 971.83 896.37 967.78 897.50 958.00 C898.63 948.22 900.32 930.13 901.40 921.30 C902.48 912.47 903.57 907.72 904.00 905.00" stroke="#0000ff" stroke-width="2.6" stroke-dasharray="3 2.4" fill="none"/>
<path d="M901.2 920.6 901.6 920.1 901.5 919.9 901.5 919.8 901.8 919.6 901.5 918.6 901.6 919.0 902.0 918.3 902.1 917.6 902.3 917.1 902.0 916.5 902.2 915.7 902.4 914.5 902.4 913.8 902.5 912.6 902.8 913.0 903.0 912.1 902.9 911.5 902.8 910.7 903.1 909.2 903.1 909.0 903.2 908.3 903.5 907.5 903.4 907.0 903.5 906.0 903.6 905.6 903.7 905.5 904.2 904.6 904.3 904.7 904.1 902.8 904.6 903.3 904.6 901.6 904.7 902.2 905.0 901.5 904.8 901.1 905.0 900.3 905.1 900.2 905.4 899.3 905.4 898.6 905.8 898.0 905.8 897.7 906.0 896.5 906.1 896.5 906.3 895.1 906.6 895.1 907.0 894.3 907.1 893.4 907.4 892.4 907.4 893.3 907.7 891.7 907.9 891.6 908.1 890.9 908.4 890.9 908.5 889.5 908.9 890.0 909.2 888.6 909.5 887.7 909.4 887.4 910.1 887.1 910.0 886.4 910.6 885.1 910.7 884.6 910.8 883.9 911.0 883.4 911.2 882.8 911.5 882.8 912.0 881.0 912.4 880.7 912.5 880.7 912.7 879.7 913.0 878.9 913.5 878.3 913.7 878.0 913.7 877.8 913.9 876.9 914.3 877.0 914.8 877.4 914.6 876.3 914.9 876.4 915.5 875.8 916.2 874.0 916.4 873.6 917.3 873.0 917.6 872.9 918.1 873.2 918.5 872.7 919.3 872.8 919.7 872.6 920.2 871.8 920.8 872.1 921.5 870.9 921.7 871.5 922.6 871.5 922.9 872.2 923.4 870.8 923.8 870.8 924.6 871.0 925.1 872.3 925.8 872.3 926.0 872.2 926.7 872.5 927.0 872.8 927.5 872.3 928.4 872.8 928.6 873.6 929.3 872.7 929.7 873.5 930.4 875.0 930.9 875.2 931.8 875.0 932.4 876.0 932.8 875.8 933.1 877.1 933.5 876.3 933.8 877.1 934.0 877.6 934.3 878.4 934.7 877.6 935.3 878.3 935.8 879.0 936.0 880.0 936.2 880.3 936.8 880.2 937.3 880.0 937.6 880.7 938.0 881.2 938.0 882.2 938.8 882.3 939.0 883.4 939.2 883.8 939.5 884.2 940.2 884.6 940.3 884.7 940.9 885.8 941.4 886.9 941.4 887.7 942.2 888.1 942.5 888.5 942.8 889.1 943.2 889.0 943.3 890.3 943.9 889.9 944.3 891.3 944.6 892.2 945.1 892.1 945.3 892.7 945.5 893.1 946.0 893.7 946.3 894.0 946.4 895.5 946.7 895.1 946.7 895.8 947.2 896.9 947.6 897.7 947.7 897.4 948.1 898.5 948.1 898.2 948.4 898.9 948.8 900.5 949.0 901.0 949.4 900.4 950.0 900.8 949.9 901.4 950.1 902.4 950.5 902.6 950.7 904.1 951.0 903.9 951.5 905.5 951.8 905.8 952.1 906.5 952.5 906.1 952.4 907.4 952.9 907.8 953.4 907.8 953.6 908.8 953.8 909.0 954.0 910.1 954.5 911.2 954.6 911.4 954.9 911.9 955.2 912.7 955.9 912.3 956.1 912.8 956.2 913.1 956.6 913.6 957.1 914.9 957.2 915.6 957.5 915.6 957.9 915.5 958.5 916.2 958.4 917.9 959.1 917.8 959.2 917.8 959.4 919.0 959.8 918.9 960.5 919.2 960.5 920.9 961.1 920.4 961.4 921.6 961.7 922.7 962.1 922.7 962.4 923.0 962.7 924.0 963.1 923.8 963.1 925.0 963.6 924.9 964.0 925.7 964.4 926.6 964.8 926.7 965.3 927.0 965.5 928.0 966.0 928.5 966.4 928.7 966.6 928.6 966.9 929.5 967.4 930.7 967.5 930.3 968.2 931.0 968.7 931.0 969.0 931.9 969.3 931.8 969.7 933.5 970.2 933.6 970.5 933.2 971.0 934.3 971.4 935.1 971.7 936.0 972.0 936.6 972.4 937.1 973.0 936.7 973.6 937.3 973.9 937.1 974.4 938.5 974.6 938.1 975.1 939.9 975.8 939.6 975.8 940.6 976.4 940.9 976.9 941.7 977.2 941.9 978.0 941.1 978.3 942.0 978.9 943.5 979.3 943.1 979.7 943.1 980.1 943.3 980.7 943.7 981.1 944.2 981.6 944.4 981.8 945.7 982.6 946.5 983.0 947.0 983.2 946.7 984.0 946.4 984.2 946.8 984.8 948.0 985.4 948.0 985.6 948.5 986.3 947.9 986.8 948.3 987.1 948.9 987.8 948.7 988.2 949.2 988.9 950.4 989.2 950.5 989.8 950.0 990.3 950.7 991.1 951.1 991.3 951.6 992.1 951.3 992.5 951.6 993.3 951.5 993.6 952.7 994.3 951.7 995.1 951.9 995.4 953.0 996.1 953.6 996.4 953.3 997.3 953.4 997.8 953.6 998.4 954.5 998.8 954.4 999.4 954.8 1000.1 955.0 1000.8 954.7 1001.4 954.2 1001.8 954.3 1002.3 955.4 1002.8 955.8 1003.4 955.0 1003.9 955.7 1004.5 955.0 1005.0 956.7 1005.7 956.3 1006.2 955.5 1006.9 955.9 1007.2 956.7 1008.1 955.8 1008.8 956.0 1009.0 956.6 1009.9 957.4 1010.5 957.0 1011.1 956.6 1011.7 956.6 1011.9 957.8 1012.8 957.7 1013.1 958.1 1013.8 957.2 1014.2 958.5 1014.8 957.3 1015.5 958.5 1016.3 958.5 1016.8 957.3 1017.4 957.6 1018.1 959.0 1018.2 958.7 1018.9 957.7 1019.8 958.4 1020.1 958.7 1020.6 958.5 1021.5 959.4 1021.8 959.5 1022.4 958.5 1023.2 958.6 1023.6 959.5 1024.4 958.9 1025.1 958.9 1025.8 960.3 1026.3 959.6 1027.0 959.7 1027.5 959.5 1028.1 960.4 1028.8 959.5 1029.2 960.9 1030.0 961.0 1030.7 960.8 1031.3 960.8 1032.0 960.8 1032.9 960.3 1033.3 961.6 1034.3 961.6 1035.0 960.5 1035.6 960.6 1036.4 961.2 1036.9 961.4 1037.5 961.6 1038.5 961.4 1039.0 961.4 1039.6 961.3 1040.6 962.4 1041.0 961.4 1041.7 962.4 1042.3 961.4 1043.0 961.3 1043.5 961.6 1044.4 962.7 1044.8 961.8 1045.5 961.4 1045.9 962.4 1046.6 962.1 1047.1 961.6 1047.5 961.9 1048.0 961.8 1048.7 961.8 1048.9 962.1 1049.2 963.1 1049.9 963.5 1049.9 962.8 1050.6 962.1 1051.2 963.0 1051.7 963.4 1052.4 962.6 1053.2 963.1 1053.5 963.7 1054.2 963.2 1054.8 963.7 1055.5 963.0 1055.9 963.6 1056.8 963.3 1057.4 963.2 1057.8 962.8 1058.3 962.5 1059.3 963.3 1059.3 962.6 1060.2 963.8 1061.0 963.7 1061.3 963.0 1062.3 962.9 1062.7 962.2 1063.2 963.2 1064.1 964.1 1064.6 962.7 1065.3 964.0 1065.3 962.9 1066.2 962.5 1066.6 963.6 1067.2 963.1 1067.7 962.8 1068.9 961.7 1068.9 963.8 1070.1 962.8 1070.2 962.3 1071.2 963.0 1071.6 963.3 1071.9 962.5 1073.1 963.8 1073.4 963.5 1074.3 962.8 1074.3 961.7 1075.3 962.3 1075.8 961.5 1076.8 962.2 1077.1 963.2 1077.5 962.0 1078.3 962.4 1078.4 962.0 1079.0 964.1 1079.7 964.2 1080.7 964.4 1081.2 962.3 1081.4 963.4 1082.6 963.6 1083.4 961.9 1083.7 963.8 1084.6 962.4 1085.2 961.7 1085.5 962.7 1086.0 962.2 1086.5 962.8 1087.2 963.0 1087.5 962.2 1088.4 964.9 1089.4 962.1 1089.7 962.1 1090.0 965.0 1090.6 961.9 1091.5 963.5 1092.0 964.8 1092.6 962.8 1092.9 963.5 1094.0 963.2 1094.3 962.4 1095.4 964.9 1095.7 963.9 1096.0 962.0 1096.3 963.6 1097.8 963.8 1098.2 964.4 1098.5 963.0 1099.0 964.3 1100.0 963.3 1100.7 964.6 1100.5 962.3 1101.6 964.0 1101.9 963.1 1103.0 962.7 1103.6 961.9 1103.9 963.9 1105.0 963.5 1105.4 964.1 1106.0 963.4 1106.2 962.3 1107.4 964.6 1107.8 964.5 1108.0 962.6 1108.8 963.6 1109.6 965.1 1109.9 963.4 1110.8 965.1 1111.3 964.2 1112.2 965.3 1111.9 965.5 1112.6 964.1 1113.6 965.5 1113.9 962.4 1115.3 963.8 1115.4 963.6 1115.8 962.3 1116.7 962.9 1117.2 965.5 1118.3 963.2 1118.2 962.5 1119.1 962.6 1119.2 965.1 1120.3 965.0 1120.5 962.5 1121.5 964.2 1121.7 963.5 1122.7 963.5 1123.0 963.3 1123.4 962.1 1124.0 964.5 1124.7 964.0 1125.2 964.6 1125.7 964.3 1126.8 964.7 1127.8 961.6 1127.5 962.4 1128.1 964.5 1128.8 963.8 1130.3 963.9 1130.9 963.7 1130.9 964.8 1131.3 963.4 1132.1 963.3 1132.6 964.8 1133.9 963.9 1134.0 964.7 1135.1 961.6 1135.6 961.8 1135.4 962.3 1136.3 963.1 1137.5 962.0 1137.7 963.2 1137.8 964.8 1139.2 962.6 1139.8 962.9 1140.2 964.5 1140.7 962.6 1140.7 962.9 1141.9 962.2 1142.5 961.3 1142.7 962.8 1143.6 963.5 1143.9 962.0 1145.0 962.0 1145.0 963.1 1145.8 962.9 1147.1 964.2 1147.5 964.1 1148.1 962.0 1148.8 961.2 1148.7 962.4 1149.2 962.7 1150.2 961.3 1151.0 960.9 1151.4 961.5 1152.4 961.0 1152.5 962.9 1153.0 963.3 1153.4 960.7 1153.9 962.4 1155.0 962.3 1155.6 963.5 1155.9 961.0 1156.5 963.3 1157.7 960.9 1157.5 963.9 1159.1 961.5 1159.2 960.8 1159.8 961.2 1160.6 961.2 1161.1 961.8 1161.6 964.0 1162.2 964.1 1163.0 961.6 1163.1 963.6 1164.3 961.3 1164.9 961.9 1165.3 963.9 1166.2 961.5 1166.0 961.8 1167.1 964.2 1167.8 963.5 1168.5 962.6 1168.7 963.7 1169.5 964.0 1170.5 962.5 1170.4 961.4 1171.3 962.0 1171.6 962.7 1172.6 963.2 1173.0 963.1 1173.7 964.0 1174.4 963.8 1174.5 963.8 1174.9 963.6 1175.5 962.9 1176.4 961.4 1177.4 961.3 1178.0 961.1 1178.1 962.2 1179.1 963.1 1179.5 963.8 1179.7 961.5 1180.7 963.0 1181.6 963.9 1181.8 963.1 1182.8 961.5 1183.1 962.5 1183.9 962.8 1184.0 961.7 1184.8 961.4 1185.9 964.2 1186.4 961.9 1186.9 961.3 1187.1 962.1 1188.1 963.2 1188.6 961.8 1189.2 963.9 1190.2 962.6 1190.3 964.3 1190.5 963.4 1191.2 964.1 1192.4 961.7 1192.3 964.6 1193.2 963.4 1194.1 962.7 1194.2 963.9 1195.0 962.9 1196.1 964.6 1196.2 962.5 1197.3 962.9 1198.0 962.6 1197.7 962.3 1199.2 963.3 1199.9 964.1 1200.2 961.9 1200.5 961.3 1201.0 961.9 1202.2 961.7 1202.2 961.2 1202.6 963.5 1203.5 962.8 1204.5 963.4 1204.5 963.6 1205.6 963.0 1206.0 964.1 1206.7 961.2 1207.5 963.2 1207.6 963.6 1208.8 963.5 1209.0 963.8 1209.2 961.2 1210.1 962.8 1210.9 963.3 1211.4 962.3 1212.2 963.0 1212.3 963.1 1213.2 963.9 1214.0 964.5 1214.7 963.0 1215.2 962.3 1215.7 964.7 1215.8 962.8 1216.7 963.8 1217.1 963.7 1217.6 964.7 1218.2 963.6 1219.5 963.3 1219.6 962.7 1220.8 963.0 1221.1 964.7 1221.6 964.3 1222.3 964.3 1222.9 962.0 1223.1 962.4 1223.7 963.5 1224.5 962.7 1224.7 964.8 1225.8 962.2 1226.6 961.8 1226.6 964.7 1227.8 962.7 1227.8 963.9 1228.5 962.5 1229.2 963.6 1229.7 961.6 1231.0 963.2 1230.8 961.6 1232.2 963.2 1232.5 964.5 1232.5 961.8 1233.3 963.8 1233.8 963.4 1235.1 962.9 1235.6 961.7 1236.0 962.8 1236.8 962.9 1237.4 964.7 1238.2 964.4 1238.6 965.0 1238.9 961.8 1239.9 963.0 1240.0 965.1 1240.7 962.4 1241.8 962.0 1241.5 964.4 1242.3 964.5 1242.7 963.1 1243.7 964.2 1244.6 964.4 1244.7 965.1 1245.1 963.7 1245.7 964.8 1246.8 963.7 1247.8 963.1 1248.2 964.6 1248.2 964.8 1249.0 964.7 1250.1 963.3 1250.3 963.6 1250.6 964.1 1251.8 965.4 1252.1 964.0 1252.9 964.7 1253.6 965.3 1254.3 965.3 1254.5 963.9 1254.9 963.7 1255.8 963.1 1256.8 964.9 1257.3 962.9 1257.7 964.7 1258.1 963.8 1258.5 965.0 1259.5 963.3 1260.4 962.6 1260.6 963.1 1261.6 963.4 1262.3 964.4 1262.0 963.6 1263.0 962.1 1264.0 964.4 1264.7 963.3 1264.4 963.8 1265.7 962.5 1266.3 963.2 1266.5 965.0 1267.4 964.9 1268.1 964.4 1268.1 964.1 1268.6 964.2 1269.8 963.0 1270.3 964.9 1271.0 962.6 1271.9 964.2 1271.8 963.0 1272.4 963.0 1273.5 962.8 1274.3 962.5 1274.3 962.5 1275.3 961.8 1275.3 964.1 1276.4 961.9 1276.7 961.5 1277.8 964.2 1277.5 963.9 1278.3 964.5 1278.8 964.3 1279.6 962.9 1280.4 963.7 1280.8 963.6 1281.9 963.1 1281.7 962.4 1282.5 964.2 1283.3 963.8 1283.9 961.6 1284.3 963.1 1284.8 962.3 1285.8 963.9 1286.7 960.8 1286.9 962.0 1287.9 960.9 1288.4 961.5 1288.9 961.8 1289.1 963.5 1290.3 961.8 1290.5 961.3 1291.0 962.0 1291.4 963.7 1292.3 961.5 1292.8 961.2 1293.6 962.1 1294.5 961.8 1294.5 961.3 1295.6 961.3 1295.6 961.1 1296.6 961.9 1297.5 962.1 1298.2 961.7 1298.3 963.5 1299.4 963.6 1299.8 962.6 1300.1 964.1 1300.6 962.3 1301.6 962.8 1302.4 962.1 1302.9 963.5 1302.8 964.1 1304.0 964.1 1304.4 963.9 1305.0 964.0 1305.9 961.6 1306.6 961.5 1306.8 962.1 1307.3 961.8 1307.8 963.4 1308.5 962.6 1308.8 961.4 1310.0 962.2 1310.5 963.9 1310.6 961.7 1312.0 963.1 1312.5 961.3 1312.7 963.7 1313.9 963.2 1314.5 962.0 1314.8 964.0 1314.9 962.9 1315.6 962.7 1316.8 962.4 1316.6 962.7 1317.7 961.9 1318.5 962.0 1318.8 962.9 1318.9 964.1 1320.1 962.0 1321.0 963.7 1321.3 962.9 1322.0 962.0 1322.4 961.3 1322.5 963.3 1323.6 964.2 1324.3 963.8 1325.0 962.7 1325.6 962.0 1326.5 963.5 1326.5 963.7 1327.1 962.4 1327.9 964.7 1328.5 964.4 1328.9 964.6 1330.0 963.9 1329.8 964.4 1330.9 962.9 1331.7 963.3 1332.3 963.2 1332.3 964.4 1332.9 963.0 1333.5 961.4 1334.4 962.5 1334.6 964.0 1335.7 963.1 1335.8 962.3 1337.0 963.1 1337.3 962.2 1338.4 962.6 1338.3 963.3 1339.3 963.4 1339.6 962.5 1340.2 961.1 1341.0 963.1 1341.6 964.0 1342.0 963.3 1343.1 963.4 1343.1 964.2 1343.7 961.1 1344.7 962.0 1345.0 961.5 1346.1 961.2 1346.2 964.4 1346.6 963.5 1347.7 962.3 1348.3 961.7 1349.1 964.1 1349.6 961.3 1349.8 961.8 1351.1 961.3 1351.5 964.5 1352.2 962.1 1352.8 961.8 1352.9 963.9 1353.5 962.2 1354.3 962.7 1355.2 964.2 1355.0 964.2 1355.7 962.1 1357.1 964.6 1357.3 964.4 1357.9 962.3 1358.4 963.6 1358.6 962.5 1359.9 963.6 1359.8 961.8 1361.3 961.8 1361.8 963.9 1361.8 962.3 1362.5 961.8 1362.9 964.7 1363.8 964.2 1364.7 962.0 1365.3 964.1 1365.2 962.5 1366.1 963.2 1366.9 962.9 1367.8 964.7 1368.0 964.4 1368.3 964.5 1368.7 963.9 1369.9 963.8 1370.2 963.7 1371.0 962.3 1371.5 963.9 1372.7 964.6 1373.0 963.3 1373.6 962.6 1373.9 964.6 1374.4 962.0 1374.7 962.0 1376.0 962.1 1376.7 963.5 1377.0 963.3 1377.9 964.5 1378.4 964.0 1378.6 964.0 1379.3 963.9 1380.5 964.1 1380.9 963.8 1381.1 965.2 1381.5 964.8 1382.6 963.0 1382.5 965.2" stroke="#0000ff" stroke-width="2.8" fill="none" stroke-linejoin="round"/>
</svg></body></html>
